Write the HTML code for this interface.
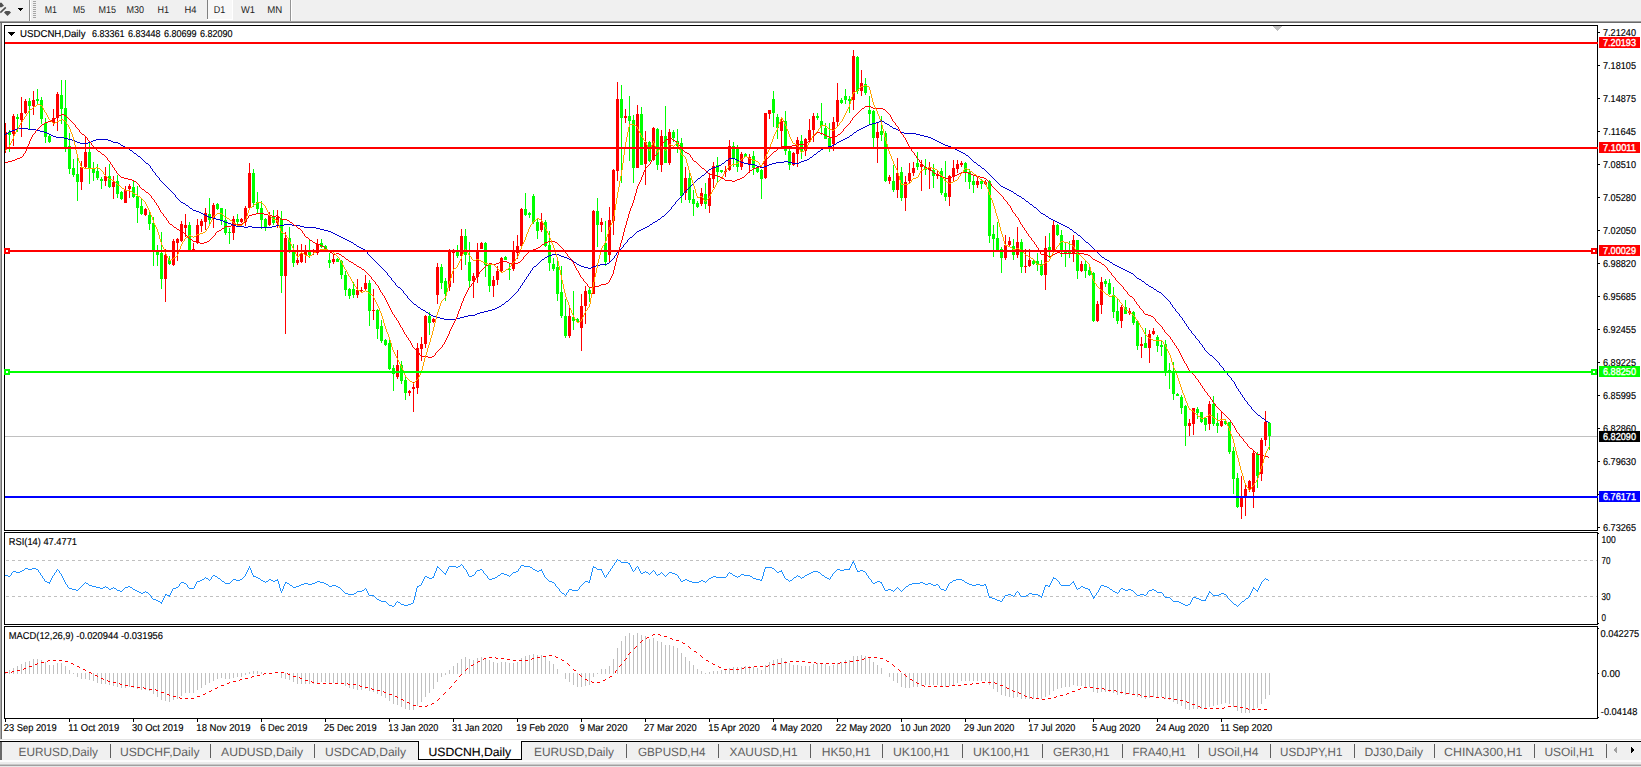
<!DOCTYPE html>
<html><head><meta charset="utf-8"><title>USDCNH,Daily</title>
<style>
html,body{margin:0;padding:0;background:#fff;}
body{width:1641px;height:767px;overflow:hidden;}
svg{display:block;font-family:"Liberation Sans",sans-serif;text-rendering:geometricPrecision;}
.c{shape-rendering:crispEdges;}
text{stroke-width:0.15px;}
text[fill="#000"]{stroke:#000;}
text[fill="#fff"]{stroke:#fff;stroke-width:0.35px;}
</style></head><body>
<svg width="1641" height="767" viewBox="0 0 1641 767">
<g class="c">
<rect x="0" y="0" width="1641" height="767" fill="#fff" />
<rect x="0" y="0" width="1641" height="21" fill="#f0f0f0" />
<rect x="0" y="21" width="1641" height="1" fill="#a0a0a0" />
<rect x="0" y="22" width="1641" height="1" fill="#696969" />
<rect x="0" y="23" width="1641" height="2" fill="#fff" />
<g shape-rendering="auto"><path d="M0 2.8h1.6l2.4 3-2.4 1.5H0z" fill="#505050"/><path d="M0.3 12.6L5.8 7.4" stroke="#505050" stroke-width="1.6" fill="none"/><path d="M5.6 11h3.8l1.6 1.5L7.5 16 4 12.5z" fill="#505050"/></g>
<rect x="18" y="8" width="5" height="1" fill="#000" />
<rect x="19" y="9" width="3" height="1" fill="#000" />
<rect x="20" y="10" width="1" height="1" fill="#000" />
<rect x="29" y="0" width="1" height="21" fill="#8c8c8c" />
<rect x="30" y="0" width="1" height="21" fill="#fff" />
<rect x="33" y="1" width="3" height="1" fill="#a6a6a6" />
<rect x="33" y="3" width="3" height="1" fill="#a6a6a6" />
<rect x="33" y="5" width="3" height="1" fill="#a6a6a6" />
<rect x="33" y="7" width="3" height="1" fill="#a6a6a6" />
<rect x="33" y="9" width="3" height="1" fill="#a6a6a6" />
<rect x="33" y="11" width="3" height="1" fill="#a6a6a6" />
<rect x="33" y="13" width="3" height="1" fill="#a6a6a6" />
<rect x="33" y="15" width="3" height="1" fill="#a6a6a6" />
<rect x="33" y="17" width="3" height="1" fill="#a6a6a6" />
<rect x="208" y="0" width="24" height="19" fill="#f8f8f8" />
<rect x="207" y="0" width="1" height="19" fill="#808080" />
<rect x="232" y="0" width="1" height="20" fill="#fff" />
<rect x="207" y="19" width="26" height="1" fill="#fff" />
<rect x="290" y="0" width="1" height="21" fill="#949494" />
<rect x="291" y="0" width="1" height="21" fill="#fff" />
<text x="44.8" y="13" font-size="10" fill="#222" textLength="12.20" lengthAdjust="spacingAndGlyphs" >M1</text>
<text x="73" y="13" font-size="10" fill="#222" textLength="12.00" lengthAdjust="spacingAndGlyphs" >M5</text>
<text x="98.5" y="13" font-size="10" fill="#222" textLength="17.50" lengthAdjust="spacingAndGlyphs" >M15</text>
<text x="126.5" y="13" font-size="10" fill="#222" textLength="17.50" lengthAdjust="spacingAndGlyphs" >M30</text>
<text x="157.5" y="13" font-size="10" fill="#222" textLength="11.50" lengthAdjust="spacingAndGlyphs" >H1</text>
<text x="184.5" y="13" font-size="10" fill="#222" textLength="12.00" lengthAdjust="spacingAndGlyphs" >H4</text>
<text x="213.7" y="13" font-size="10" fill="#222" textLength="11.50" lengthAdjust="spacingAndGlyphs" >D1</text>
<text x="241" y="13" font-size="10" fill="#222" textLength="14.00" lengthAdjust="spacingAndGlyphs" >W1</text>
<text x="267.3" y="13" font-size="10" fill="#222" textLength="15.00" lengthAdjust="spacingAndGlyphs" >MN</text>
<rect x="0" y="23" width="1" height="719" fill="#a9a9a9" />
<rect x="1" y="23" width="1" height="719" fill="#6e6e6e" />
<rect x="5" y="436" width="1592" height="1" fill="#c0c0c0" />
<rect x="5" y="123" width="1" height="30" fill="#ff0000" />
<rect x="5" y="132" width="2" height="17" fill="#ff0000" />
<path d="M9 130h1v2h1v3h-1v17h-1v-17h-1v-3h1z" fill="#00ff00"/>
<path d="M13 114h1v2h1v18h-1v12h-1v-12h-1v-18h1z" fill="#ff0000"/>
<path d="M17 114h1v3h1v2h-1v13h-1v-13h-1v-2h1z" fill="#00ff00"/>
<path d="M21 97h1v16h1v7h-1v17h-1v-17h-1v-7h1z" fill="#ff0000"/>
<path d="M25 99h1v2h1v12h-1v1h-1v-1h-1v-12h1z" fill="#ff0000"/>
<path d="M29 98h1v3h1v5h-1v24h-1v-24h-1v-5h1z" fill="#00ff00"/>
<path d="M33 91h1v9h1v6h-1v9h-1v-9h-1v-6h1z" fill="#ff0000"/>
<path d="M37 89h1v10h1v2h-1v3h-1v-3h-1v-2h1z" fill="#00ff00"/>
<path d="M41 97h1v3h1v19h-1v5h-1v-5h-1v-19h1z" fill="#00ff00"/>
<path d="M45 118h1v5h1v14h-1v6h-1v-6h-1v-14h1z" fill="#00ff00"/>
<path d="M49 135h1v1h1v6h-1v1h-1v-1h-1v-6h1z" fill="#00ff00"/>
<path d="M53 109h1v9h1v5h-1v3h-1v-3h-1v-5h1z" fill="#ff0000"/>
<path d="M57 92h1v2h1v24h-1v13h-1v-13h-1v-24h1z" fill="#ff0000"/>
<path d="M61 80h1v15h1v14h-1v15h-1v-15h-1v-14h1z" fill="#00ff00"/>
<path d="M65 80h1v28h1v39h-1v5h-1v-5h-1v-39h1z" fill="#00ff00"/>
<path d="M69 133h1v13h1v23h-1v5h-1v-5h-1v-23h1z" fill="#00ff00"/>
<path d="M73 159h1v9h1v7h-1v2h-1v-2h-1v-7h1z" fill="#00ff00"/>
<path d="M77 157h1v17h1v8h-1v19h-1v-19h-1v-8h1z" fill="#00ff00"/>
<path d="M81 161h1v6h1v15h-1v8h-1v-8h-1v-15h1z" fill="#ff0000"/>
<path d="M85 137h1v15h1v15h-1v1h-1v-1h-1v-15h1z" fill="#ff0000"/>
<path d="M89 143h1v9h1v17h-1v15h-1v-15h-1v-17h1z" fill="#00ff00"/>
<path d="M93 162h1v7h1v4h-1v8h-1v-8h-1v-4h1z" fill="#00ff00"/>
<path d="M97 164h1v7h1v7h-1v2h-1v-2h-1v-7h1z" fill="#00ff00"/>
<path d="M101 177h1v2h1v2h-1v8h-1v-8h-1v-2h1z" fill="#00ff00"/>
<path d="M105 167h1v9h1v5h-1v5h-1v-5h-1v-5h1z" fill="#ff0000"/>
<path d="M109 164h1v12h1v11h-1v1h-1v-1h-1v-11h1z" fill="#00ff00"/>
<path d="M113 176h1v6h1v5h-1v12h-1v-12h-1v-5h1z" fill="#ff0000"/>
<path d="M117 175h1v6h1v13h-1v4h-1v-4h-1v-13h1z" fill="#00ff00"/>
<path d="M121 191h1v1h1v7h-1v1h-1v-1h-1v-7h1z" fill="#00ff00"/>
<path d="M125 186h1v4h1v13h-1v0h-1v0h-1v-13h1z" fill="#ff0000"/>
<path d="M129 184h1v2h1v3h-1v9h-1v-9h-1v-3h1z" fill="#ff0000"/>
<path d="M133 181h1v6h1v10h-1v1h-1v-1h-1v-10h1z" fill="#00ff00"/>
<path d="M137 186h1v10h1v12h-1v15h-1v-15h-1v-12h1z" fill="#00ff00"/>
<path d="M141 199h1v7h1v8h-1v1h-1v-1h-1v-8h1z" fill="#00ff00"/>
<path d="M145 208h1v1h1v6h-1v1h-1v-1h-1v-6h1z" fill="#ff0000"/>
<path d="M149 212h1v3h1v9h-1v6h-1v-6h-1v-9h1z" fill="#00ff00"/>
<path d="M153 217h1v6h1v28h-1v15h-1v-15h-1v-28h1z" fill="#00ff00"/>
<path d="M157 245h1v6h1v4h-1v11h-1v-11h-1v-4h1z" fill="#00ff00"/>
<path d="M161 232h1v21h1v26h-1v10h-1v-10h-1v-26h1z" fill="#00ff00"/>
<path d="M165 249h1v6h1v24h-1v23h-1v-23h-1v-24h1z" fill="#ff0000"/>
<path d="M169 256h1v4h1v4h-1v1h-1v-1h-1v-4h1z" fill="#00ff00"/>
<path d="M173 239h1v2h1v24h-1v1h-1v-1h-1v-24h1z" fill="#ff0000"/>
<path d="M177 238h1v1h1v4h-1v18h-1v-18h-1v-4h1z" fill="#ff0000"/>
<path d="M181 221h1v3h1v17h-1v1h-1v-1h-1v-17h1z" fill="#ff0000"/>
<path d="M185 214h1v11h1v3h-1v9h-1v-9h-1v-3h1z" fill="#ff0000"/>
<path d="M189 222h1v3h1v25h-1v0h-1v0h-1v-25h1z" fill="#00ff00"/>
<path d="M193 243h1v6h1v1h-1v0h-1v0h-1v-1h1z" fill="#ff0000"/>
<path d="M197 219h1v6h1v18h-1v1h-1v-1h-1v-18h1z" fill="#ff0000"/>
<path d="M201 219h1v2h1v5h-1v6h-1v-6h-1v-5h1z" fill="#ff0000"/>
<path d="M205 208h1v5h1v9h-1v8h-1v-8h-1v-9h1z" fill="#ff0000"/>
<path d="M209 198h1v16h1v6h-1v5h-1v-5h-1v-6h1z" fill="#00ff00"/>
<path d="M213 203h1v2h1v13h-1v10h-1v-10h-1v-13h1z" fill="#ff0000"/>
<path d="M217 203h1v1h1v5h-1v1h-1v-1h-1v-5h1z" fill="#00ff00"/>
<path d="M221 208h1v0h1v12h-1v5h-1v-5h-1v-12h1z" fill="#00ff00"/>
<path d="M225 209h1v11h1v13h-1v2h-1v-2h-1v-13h1z" fill="#00ff00"/>
<path d="M229 228h1v4h1v1h-1v11h-1v-11h-1v-1h1z" fill="#00ff00"/>
<path d="M233 216h1v3h1v14h-1v7h-1v-7h-1v-14h1z" fill="#ff0000"/>
<path d="M237 214h1v5h1v3h-1v5h-1v-5h-1v-3h1z" fill="#00ff00"/>
<path d="M241 218h1v1h1v3h-1v1h-1v-1h-1v-3h1z" fill="#ff0000"/>
<path d="M245 206h1v2h1v14h-1v4h-1v-4h-1v-14h1z" fill="#ff0000"/>
<path d="M249 163h1v10h1v35h-1v2h-1v-2h-1v-35h1z" fill="#ff0000"/>
<path d="M253 169h1v4h1v30h-1v4h-1v-4h-1v-30h1z" fill="#00ff00"/>
<path d="M257 192h1v10h1v7h-1v4h-1v-4h-1v-7h1z" fill="#00ff00"/>
<path d="M261 201h1v7h1v12h-1v9h-1v-9h-1v-12h1z" fill="#00ff00"/>
<path d="M265 218h1v1h1v9h-1v3h-1v-3h-1v-9h1z" fill="#00ff00"/>
<path d="M269 212h1v4h1v9h-1v1h-1v-1h-1v-9h1z" fill="#ff0000"/>
<path d="M273 210h1v6h1v7h-1v2h-1v-2h-1v-7h1z" fill="#00ff00"/>
<path d="M277 210h1v7h1v6h-1v5h-1v-5h-1v-6h1z" fill="#ff0000"/>
<path d="M281 211h1v8h1v57h-1v17h-1v-17h-1v-57h1z" fill="#00ff00"/>
<path d="M285 232h1v6h1v38h-1v58h-1v-58h-1v-38h1z" fill="#ff0000"/>
<path d="M289 227h1v11h1v12h-1v3h-1v-3h-1v-12h1z" fill="#00ff00"/>
<path d="M293 244h1v8h1v11h-1v4h-1v-4h-1v-11h1z" fill="#00ff00"/>
<path d="M297 245h1v15h1v3h-1v2h-1v-2h-1v-3h1z" fill="#ff0000"/>
<path d="M301 244h1v10h1v8h-1v1h-1v-1h-1v-8h1z" fill="#ff0000"/>
<path d="M305 245h1v5h1v5h-1v8h-1v-8h-1v-5h1z" fill="#ff0000"/>
<path d="M309 240h1v11h1v4h-1v3h-1v-3h-1v-4h1z" fill="#00ff00"/>
<path d="M313 249h1v1h1v1h-1v4h-1v-4h-1v-1h1z" fill="#ff0000"/>
<path d="M317 239h1v5h1v9h-1v2h-1v-2h-1v-9h1z" fill="#ff0000"/>
<path d="M321 239h1v4h1v4h-1v1h-1v-1h-1v-4h1z" fill="#00ff00"/>
<path d="M325 245h1v1h1v4h-1v1h-1v-1h-1v-4h1z" fill="#00ff00"/>
<path d="M329 253h1v7h1v3h-1v5h-1v-5h-1v-3h1z" fill="#00ff00"/>
<path d="M333 255h1v4h1v3h-1v2h-1v-2h-1v-3h1z" fill="#ff0000"/>
<path d="M337 258h1v1h1v3h-1v0h-1v0h-1v-3h1z" fill="#00ff00"/>
<path d="M341 260h1v1h1v14h-1v4h-1v-4h-1v-14h1z" fill="#00ff00"/>
<path d="M345 271h1v4h1v15h-1v6h-1v-6h-1v-15h1z" fill="#00ff00"/>
<path d="M349 288h1v1h1v7h-1v3h-1v-3h-1v-7h1z" fill="#00ff00"/>
<path d="M353 282h1v7h1v6h-1v3h-1v-3h-1v-6h1z" fill="#00ff00"/>
<path d="M357 279h1v11h1v5h-1v3h-1v-3h-1v-5h1z" fill="#ff0000"/>
<path d="M361 287h1v3h1v1h-1v2h-1v-2h-1v-1h1z" fill="#ff0000"/>
<path d="M365 275h1v8h1v6h-1v2h-1v-2h-1v-6h1z" fill="#ff0000"/>
<path d="M369 280h1v3h1v28h-1v15h-1v-15h-1v-28h1z" fill="#00ff00"/>
<path d="M373 289h1v21h1v1h-1v9h-1v-9h-1v-1h1z" fill="#ff0000"/>
<path d="M377 309h1v1h1v19h-1v10h-1v-10h-1v-19h1z" fill="#00ff00"/>
<path d="M381 320h1v6h1v15h-1v2h-1v-2h-1v-15h1z" fill="#00ff00"/>
<path d="M385 339h1v1h1v5h-1v1h-1v-1h-1v-5h1z" fill="#00ff00"/>
<path d="M389 340h1v3h1v26h-1v1h-1v-1h-1v-26h1z" fill="#00ff00"/>
<path d="M393 365h1v3h1v6h-1v17h-1v-17h-1v-6h1z" fill="#00ff00"/>
<path d="M397 350h1v15h1v12h-1v2h-1v-2h-1v-12h1z" fill="#ff0000"/>
<path d="M401 361h1v4h1v16h-1v3h-1v-3h-1v-16h1z" fill="#00ff00"/>
<path d="M405 377h1v3h1v13h-1v7h-1v-7h-1v-13h1z" fill="#00ff00"/>
<path d="M409 390h1v1h1v2h-1v3h-1v-3h-1v-2h1z" fill="#ff0000"/>
<path d="M413 382h1v5h1v2h-1v23h-1v-23h-1v-2h1z" fill="#ff0000"/>
<path d="M417 343h1v5h1v40h-1v6h-1v-6h-1v-40h1z" fill="#ff0000"/>
<path d="M421 337h1v7h1v5h-1v12h-1v-12h-1v-5h1z" fill="#ff0000"/>
<path d="M425 315h1v1h1v28h-1v4h-1v-4h-1v-28h1z" fill="#ff0000"/>
<path d="M429 312h1v4h1v7h-1v12h-1v-12h-1v-7h1z" fill="#00ff00"/>
<path d="M433 318h1v1h1v3h-1v1h-1v-1h-1v-3h1z" fill="#ff0000"/>
<path d="M437 263h1v4h1v28h-1v9h-1v-9h-1v-28h1z" fill="#ff0000"/>
<path d="M441 264h1v3h1v16h-1v6h-1v-6h-1v-16h1z" fill="#00ff00"/>
<path d="M445 278h1v3h1v13h-1v7h-1v-7h-1v-13h1z" fill="#00ff00"/>
<path d="M449 249h1v1h1v37h-1v4h-1v-4h-1v-37h1z" fill="#ff0000"/>
<path d="M453 249h1v2h1v2h-1v30h-1v-30h-1v-2h1z" fill="#ff0000"/>
<path d="M457 245h1v6h1v5h-1v2h-1v-2h-1v-5h1z" fill="#00ff00"/>
<path d="M461 229h1v7h1v20h-1v14h-1v-14h-1v-20h1z" fill="#ff0000"/>
<path d="M465 229h1v7h1v19h-1v10h-1v-10h-1v-19h1z" fill="#00ff00"/>
<path d="M469 242h1v20h1v19h-1v7h-1v-7h-1v-19h1z" fill="#00ff00"/>
<path d="M473 273h1v3h1v5h-1v17h-1v-17h-1v-5h1z" fill="#ff0000"/>
<path d="M477 243h1v7h1v27h-1v6h-1v-6h-1v-27h1z" fill="#ff0000"/>
<path d="M481 242h1v1h1v6h-1v0h-1v0h-1v-6h1z" fill="#ff0000"/>
<path d="M485 242h1v1h1v22h-1v12h-1v-12h-1v-22h1z" fill="#00ff00"/>
<path d="M489 263h1v1h1v22h-1v6h-1v-6h-1v-22h1z" fill="#00ff00"/>
<path d="M493 276h1v4h1v6h-1v11h-1v-11h-1v-6h1z" fill="#ff0000"/>
<path d="M497 266h1v5h1v9h-1v5h-1v-5h-1v-9h1z" fill="#ff0000"/>
<path d="M501 257h1v1h1v13h-1v2h-1v-2h-1v-13h1z" fill="#ff0000"/>
<path d="M505 256h1v1h1v3h-1v0h-1v0h-1v-3h1z" fill="#00ff00"/>
<path d="M509 264h1v5h1v1h-1v10h-1v-10h-1v-1h1z" fill="#00ff00"/>
<path d="M513 241h1v11h1v17h-1v2h-1v-2h-1v-17h1z" fill="#ff0000"/>
<path d="M517 235h1v11h1v7h-1v6h-1v-6h-1v-7h1z" fill="#ff0000"/>
<path d="M521 208h1v1h1v37h-1v0h-1v0h-1v-37h1z" fill="#ff0000"/>
<path d="M525 193h1v16h1v6h-1v1h-1v-1h-1v-6h1z" fill="#00ff00"/>
<path d="M529 212h1v1h1v2h-1v3h-1v-3h-1v-2h1z" fill="#00ff00"/>
<path d="M533 194h1v2h1v26h-1v2h-1v-2h-1v-26h1z" fill="#00ff00"/>
<path d="M537 218h1v4h1v9h-1v8h-1v-8h-1v-9h1z" fill="#00ff00"/>
<path d="M541 213h1v9h1v8h-1v2h-1v-2h-1v-8h1z" fill="#ff0000"/>
<path d="M545 220h1v2h1v24h-1v1h-1v-1h-1v-24h1z" fill="#00ff00"/>
<path d="M549 231h1v14h1v18h-1v8h-1v-8h-1v-18h1z" fill="#00ff00"/>
<path d="M553 258h1v6h1v5h-1v2h-1v-2h-1v-5h1z" fill="#00ff00"/>
<path d="M557 259h1v8h1v27h-1v7h-1v-7h-1v-27h1z" fill="#00ff00"/>
<path d="M561 266h1v26h1v24h-1v2h-1v-2h-1v-24h1z" fill="#00ff00"/>
<path d="M565 299h1v17h1v20h-1v2h-1v-2h-1v-20h1z" fill="#00ff00"/>
<path d="M569 308h1v8h1v20h-1v2h-1v-2h-1v-20h1z" fill="#ff0000"/>
<path d="M573 291h1v26h1v4h-1v9h-1v-9h-1v-4h1z" fill="#00ff00"/>
<path d="M577 318h1v1h1v3h-1v1h-1v-1h-1v-3h1z" fill="#00ff00"/>
<path d="M581 294h1v12h1v22h-1v23h-1v-23h-1v-22h1z" fill="#ff0000"/>
<path d="M585 286h1v5h1v15h-1v18h-1v-18h-1v-15h1z" fill="#ff0000"/>
<path d="M589 287h1v3h1v4h-1v8h-1v-8h-1v-4h1z" fill="#00ff00"/>
<path d="M593 210h1v1h1v83h-1v0h-1v0h-1v-83h1z" fill="#ff0000"/>
<path d="M597 198h1v13h1v14h-1v22h-1v-22h-1v-14h1z" fill="#00ff00"/>
<path d="M601 218h1v4h1v3h-1v7h-1v-7h-1v-3h1z" fill="#ff0000"/>
<path d="M605 221h1v22h1v19h-1v4h-1v-4h-1v-19h1z" fill="#00ff00"/>
<path d="M609 207h1v13h1v35h-1v7h-1v-7h-1v-35h1z" fill="#ff0000"/>
<path d="M613 169h1v1h1v51h-1v14h-1v-14h-1v-51h1z" fill="#ff0000"/>
<path d="M617 82h1v17h1v72h-1v10h-1v-10h-1v-72h1z" fill="#ff0000"/>
<path d="M621 85h1v14h1v19h-1v65h-1v-65h-1v-19h1z" fill="#00ff00"/>
<path d="M625 109h1v7h1v2h-1v5h-1v-5h-1v-2h1z" fill="#ff0000"/>
<path d="M629 96h1v20h1v5h-1v40h-1v-40h-1v-5h1z" fill="#00ff00"/>
<path d="M633 115h1v5h1v48h-1v15h-1v-15h-1v-48h1z" fill="#00ff00"/>
<path d="M637 105h1v9h1v54h-1v0h-1v0h-1v-54h1z" fill="#ff0000"/>
<path d="M641 107h1v7h1v51h-1v0h-1v0h-1v-51h1z" fill="#00ff00"/>
<path d="M645 131h1v11h1v22h-1v21h-1v-21h-1v-22h1z" fill="#ff0000"/>
<path d="M649 141h1v1h1v19h-1v1h-1v-1h-1v-19h1z" fill="#00ff00"/>
<path d="M653 127h1v1h1v32h-1v1h-1v-1h-1v-32h1z" fill="#ff0000"/>
<path d="M657 128h1v1h1v36h-1v5h-1v-5h-1v-36h1z" fill="#00ff00"/>
<path d="M661 130h1v6h1v29h-1v7h-1v-7h-1v-29h1z" fill="#ff0000"/>
<path d="M665 106h1v30h1v27h-1v0h-1v0h-1v-27h1z" fill="#00ff00"/>
<path d="M669 129h1v3h1v31h-1v2h-1v-2h-1v-31h1z" fill="#ff0000"/>
<path d="M673 130h1v2h1v6h-1v4h-1v-4h-1v-6h1z" fill="#00ff00"/>
<path d="M677 129h1v12h1v5h-1v7h-1v-7h-1v-5h1z" fill="#00ff00"/>
<path d="M681 138h1v5h1v53h-1v7h-1v-7h-1v-53h1z" fill="#00ff00"/>
<path d="M685 167h1v11h1v15h-1v7h-1v-7h-1v-15h1z" fill="#ff0000"/>
<path d="M689 172h1v6h1v22h-1v3h-1v-3h-1v-22h1z" fill="#00ff00"/>
<path d="M693 190h1v9h1v5h-1v12h-1v-12h-1v-5h1z" fill="#00ff00"/>
<path d="M697 201h1v2h1v4h-1v1h-1v-1h-1v-4h1z" fill="#00ff00"/>
<path d="M701 188h1v5h1v11h-1v2h-1v-2h-1v-11h1z" fill="#ff0000"/>
<path d="M705 183h1v11h1v10h-1v5h-1v-5h-1v-10h1z" fill="#00ff00"/>
<path d="M709 173h1v5h1v28h-1v7h-1v-7h-1v-28h1z" fill="#ff0000"/>
<path d="M713 162h1v4h1v13h-1v9h-1v-9h-1v-13h1z" fill="#ff0000"/>
<path d="M717 157h1v8h1v7h-1v11h-1v-11h-1v-7h1z" fill="#00ff00"/>
<path d="M721 170h1v0h1v2h-1v1h-1v-1h-1v-2h1z" fill="#00ff00"/>
<path d="M725 166h1v5h1v1h-1v5h-1v-5h-1v-1h1z" fill="#ff0000"/>
<path d="M729 140h1v6h1v24h-1v1h-1v-1h-1v-24h1z" fill="#ff0000"/>
<path d="M733 142h1v4h1v13h-1v8h-1v-8h-1v-13h1z" fill="#00ff00"/>
<path d="M737 145h1v4h1v18h-1v5h-1v-5h-1v-18h1z" fill="#00ff00"/>
<path d="M741 152h1v2h1v13h-1v3h-1v-3h-1v-13h1z" fill="#ff0000"/>
<path d="M745 153h1v1h1v3h-1v0h-1v0h-1v-3h1z" fill="#00ff00"/>
<path d="M749 154h1v3h1v8h-1v8h-1v-8h-1v-8h1z" fill="#ff0000"/>
<path d="M753 151h1v5h1v12h-1v7h-1v-7h-1v-12h1z" fill="#00ff00"/>
<path d="M757 166h1v1h1v5h-1v1h-1v-1h-1v-5h1z" fill="#00ff00"/>
<path d="M761 169h1v1h1v9h-1v20h-1v-20h-1v-9h1z" fill="#00ff00"/>
<path d="M765 113h1v0h1v65h-1v1h-1v-1h-1v-65h1z" fill="#ff0000"/>
<path d="M769 110h1v0h1v4h-1v5h-1v-5h-1v-4h1z" fill="#ff0000"/>
<path d="M773 91h1v8h1v14h-1v14h-1v-14h-1v-14h1z" fill="#00ff00"/>
<path d="M777 114h1v3h1v11h-1v11h-1v-11h-1v-11h1z" fill="#00ff00"/>
<path d="M781 118h1v3h1v10h-1v18h-1v-18h-1v-10h1z" fill="#ff0000"/>
<path d="M785 111h1v10h1v30h-1v4h-1v-4h-1v-30h1z" fill="#00ff00"/>
<path d="M789 149h1v2h1v14h-1v5h-1v-5h-1v-14h1z" fill="#00ff00"/>
<path d="M793 152h1v1h1v12h-1v1h-1v-1h-1v-12h1z" fill="#ff0000"/>
<path d="M797 137h1v3h1v14h-1v13h-1v-13h-1v-14h1z" fill="#ff0000"/>
<path d="M801 135h1v6h1v11h-1v7h-1v-7h-1v-11h1z" fill="#00ff00"/>
<path d="M805 138h1v1h1v12h-1v5h-1v-5h-1v-12h1z" fill="#ff0000"/>
<path d="M809 119h1v11h1v10h-1v2h-1v-2h-1v-10h1z" fill="#ff0000"/>
<path d="M813 113h1v3h1v14h-1v12h-1v-12h-1v-14h1z" fill="#ff0000"/>
<path d="M817 113h1v3h1v2h-1v2h-1v-2h-1v-2h1z" fill="#00ff00"/>
<path d="M821 103h1v18h1v5h-1v9h-1v-9h-1v-5h1z" fill="#00ff00"/>
<path d="M825 123h1v5h1v11h-1v0h-1v0h-1v-11h1z" fill="#00ff00"/>
<path d="M829 123h1v15h1v8h-1v6h-1v-6h-1v-8h1z" fill="#00ff00"/>
<path d="M833 117h1v5h1v22h-1v7h-1v-7h-1v-22h1z" fill="#ff0000"/>
<path d="M837 83h1v17h1v22h-1v4h-1v-4h-1v-22h1z" fill="#ff0000"/>
<path d="M841 98h1v2h1v3h-1v1h-1v-1h-1v-3h1z" fill="#00ff00"/>
<path d="M845 89h1v7h1v4h-1v4h-1v-4h-1v-4h1z" fill="#00ff00"/>
<path d="M849 96h1v3h1v2h-1v12h-1v-12h-1v-2h1z" fill="#00ff00"/>
<path d="M853 50h1v6h1v44h-1v10h-1v-10h-1v-44h1z" fill="#ff0000"/>
<path d="M857 56h1v1h1v34h-1v3h-1v-3h-1v-34h1z" fill="#00ff00"/>
<path d="M861 70h1v13h1v8h-1v5h-1v-5h-1v-8h1z" fill="#ff0000"/>
<path d="M865 78h1v6h1v9h-1v2h-1v-2h-1v-9h1z" fill="#00ff00"/>
<path d="M869 96h1v14h1v4h-1v11h-1v-11h-1v-4h1z" fill="#00ff00"/>
<path d="M873 110h1v1h1v27h-1v9h-1v-9h-1v-27h1z" fill="#00ff00"/>
<path d="M877 122h1v10h1v6h-1v25h-1v-25h-1v-6h1z" fill="#ff0000"/>
<path d="M881 116h1v15h1v4h-1v6h-1v-6h-1v-4h1z" fill="#00ff00"/>
<path d="M885 131h1v2h1v48h-1v1h-1v-1h-1v-48h1z" fill="#00ff00"/>
<path d="M889 175h1v2h1v4h-1v3h-1v-3h-1v-4h1z" fill="#ff0000"/>
<path d="M893 165h1v16h1v9h-1v2h-1v-2h-1v-9h1z" fill="#00ff00"/>
<path d="M897 158h1v15h1v17h-1v8h-1v-8h-1v-17h1z" fill="#ff0000"/>
<path d="M901 167h1v5h1v26h-1v3h-1v-3h-1v-26h1z" fill="#00ff00"/>
<path d="M905 176h1v6h1v16h-1v13h-1v-13h-1v-16h1z" fill="#ff0000"/>
<path d="M909 163h1v10h1v8h-1v3h-1v-3h-1v-8h1z" fill="#ff0000"/>
<path d="M913 162h1v6h1v5h-1v3h-1v-3h-1v-5h1z" fill="#ff0000"/>
<path d="M917 152h1v11h1v4h-1v3h-1v-3h-1v-4h1z" fill="#00ff00"/>
<path d="M921 160h1v4h1v3h-1v24h-1v-24h-1v-3h1z" fill="#ff0000"/>
<path d="M925 159h1v8h1v3h-1v5h-1v-5h-1v-3h1z" fill="#00ff00"/>
<path d="M929 162h1v5h1v3h-1v19h-1v-19h-1v-3h1z" fill="#ff0000"/>
<path d="M933 164h1v6h1v6h-1v12h-1v-12h-1v-6h1z" fill="#00ff00"/>
<path d="M937 170h1v4h1v2h-1v3h-1v-3h-1v-2h1z" fill="#ff0000"/>
<path d="M941 168h1v3h1v22h-1v2h-1v-2h-1v-22h1z" fill="#00ff00"/>
<path d="M945 161h1v32h1v4h-1v4h-1v-4h-1v-4h1z" fill="#00ff00"/>
<path d="M949 175h1v1h1v21h-1v9h-1v-9h-1v-21h1z" fill="#ff0000"/>
<path d="M953 160h1v8h1v9h-1v5h-1v-5h-1v-9h1z" fill="#ff0000"/>
<path d="M957 160h1v4h1v5h-1v4h-1v-4h-1v-5h1z" fill="#ff0000"/>
<path d="M961 161h1v2h1v2h-1v2h-1v-2h-1v-2h1z" fill="#ff0000"/>
<path d="M965 162h1v1h1v10h-1v9h-1v-9h-1v-10h1z" fill="#00ff00"/>
<path d="M969 169h1v3h1v10h-1v7h-1v-7h-1v-10h1z" fill="#00ff00"/>
<path d="M973 175h1v6h1v4h-1v8h-1v-8h-1v-4h1z" fill="#00ff00"/>
<path d="M977 176h1v5h1v4h-1v3h-1v-3h-1v-4h1z" fill="#ff0000"/>
<path d="M981 179h1v2h1v3h-1v5h-1v-5h-1v-3h1z" fill="#00ff00"/>
<path d="M985 180h1v2h1v2h-1v1h-1v-1h-1v-2h1z" fill="#ff0000"/>
<path d="M989 180h1v1h1v55h-1v7h-1v-7h-1v-55h1z" fill="#00ff00"/>
<path d="M993 225h1v9h1v5h-1v18h-1v-18h-1v-5h1z" fill="#00ff00"/>
<path d="M997 222h1v16h1v12h-1v0h-1v0h-1v-12h1z" fill="#00ff00"/>
<path d="M1001 247h1v2h1v9h-1v15h-1v-15h-1v-9h1z" fill="#00ff00"/>
<path d="M1005 235h1v10h1v13h-1v2h-1v-2h-1v-13h1z" fill="#ff0000"/>
<path d="M1009 237h1v4h1v4h-1v2h-1v-2h-1v-4h1z" fill="#ff0000"/>
<path d="M1013 239h1v7h1v9h-1v5h-1v-5h-1v-9h1z" fill="#00ff00"/>
<path d="M1017 227h1v15h1v13h-1v3h-1v-3h-1v-13h1z" fill="#ff0000"/>
<path d="M1021 239h1v3h1v25h-1v6h-1v-6h-1v-25h1z" fill="#00ff00"/>
<path d="M1025 249h1v17h1v1h-1v6h-1v-6h-1v-1h1z" fill="#ff0000"/>
<path d="M1029 249h1v11h1v6h-1v1h-1v-1h-1v-6h1z" fill="#ff0000"/>
<path d="M1033 260h1v1h1v3h-1v1h-1v-1h-1v-3h1z" fill="#00ff00"/>
<path d="M1037 253h1v8h1v4h-1v6h-1v-6h-1v-4h1z" fill="#00ff00"/>
<path d="M1041 260h1v4h1v11h-1v1h-1v-1h-1v-11h1z" fill="#00ff00"/>
<path d="M1045 236h1v12h1v27h-1v15h-1v-15h-1v-27h1z" fill="#ff0000"/>
<path d="M1049 233h1v14h1v3h-1v8h-1v-8h-1v-3h1z" fill="#00ff00"/>
<path d="M1053 220h1v5h1v26h-1v1h-1v-1h-1v-26h1z" fill="#ff0000"/>
<path d="M1057 224h1v1h1v10h-1v1h-1v-1h-1v-10h1z" fill="#00ff00"/>
<path d="M1061 230h1v5h1v15h-1v7h-1v-7h-1v-15h1z" fill="#00ff00"/>
<path d="M1065 242h1v8h1v3h-1v14h-1v-14h-1v-3h1z" fill="#00ff00"/>
<path d="M1069 241h1v9h1v4h-1v4h-1v-4h-1v-4h1z" fill="#00ff00"/>
<path d="M1073 235h1v5h1v13h-1v9h-1v-9h-1v-13h1z" fill="#ff0000"/>
<path d="M1077 240h1v0h1v31h-1v8h-1v-8h-1v-31h1z" fill="#00ff00"/>
<path d="M1081 261h1v3h1v7h-1v1h-1v-1h-1v-7h1z" fill="#ff0000"/>
<path d="M1085 260h1v4h1v7h-1v7h-1v-7h-1v-7h1z" fill="#00ff00"/>
<path d="M1089 264h1v6h1v5h-1v1h-1v-1h-1v-5h1z" fill="#00ff00"/>
<path d="M1093 272h1v1h1v48h-1v1h-1v-1h-1v-48h1z" fill="#00ff00"/>
<path d="M1097 301h1v3h1v17h-1v1h-1v-1h-1v-17h1z" fill="#ff0000"/>
<path d="M1101 277h1v5h1v23h-1v9h-1v-9h-1v-23h1z" fill="#ff0000"/>
<path d="M1105 279h1v2h1v3h-1v3h-1v-3h-1v-3h1z" fill="#00ff00"/>
<path d="M1109 279h1v4h1v11h-1v1h-1v-1h-1v-11h1z" fill="#00ff00"/>
<path d="M1113 287h1v8h1v17h-1v6h-1v-6h-1v-17h1z" fill="#00ff00"/>
<path d="M1117 299h1v12h1v10h-1v3h-1v-3h-1v-10h1z" fill="#00ff00"/>
<path d="M1121 305h1v2h1v14h-1v7h-1v-7h-1v-14h1z" fill="#ff0000"/>
<path d="M1125 300h1v7h1v7h-1v0h-1v0h-1v-7h1z" fill="#00ff00"/>
<path d="M1129 308h1v3h1v2h-1v2h-1v-2h-1v-2h1z" fill="#ff0000"/>
<path d="M1133 311h1v1h1v11h-1v2h-1v-2h-1v-11h1z" fill="#00ff00"/>
<path d="M1137 321h1v0h1v25h-1v4h-1v-4h-1v-25h1z" fill="#00ff00"/>
<path d="M1141 337h1v7h1v2h-1v12h-1v-12h-1v-2h1z" fill="#ff0000"/>
<path d="M1145 328h1v15h1v5h-1v0h-1v0h-1v-5h1z" fill="#00ff00"/>
<path d="M1149 330h1v4h1v14h-1v15h-1v-15h-1v-14h1z" fill="#ff0000"/>
<path d="M1153 328h1v3h1v3h-1v1h-1v-1h-1v-3h1z" fill="#ff0000"/>
<path d="M1157 335h1v2h1v9h-1v6h-1v-6h-1v-9h1z" fill="#00ff00"/>
<path d="M1161 340h1v5h1v2h-1v9h-1v-9h-1v-2h1z" fill="#00ff00"/>
<path d="M1165 340h1v4h1v28h-1v4h-1v-4h-1v-28h1z" fill="#00ff00"/>
<path d="M1169 363h1v7h1v3h-1v16h-1v-16h-1v-3h1z" fill="#00ff00"/>
<path d="M1173 362h1v10h1v22h-1v6h-1v-6h-1v-22h1z" fill="#00ff00"/>
<path d="M1177 393h1v1h1v2h-1v0h-1v0h-1v-2h1z" fill="#00ff00"/>
<path d="M1181 395h1v2h1v11h-1v6h-1v-6h-1v-11h1z" fill="#00ff00"/>
<path d="M1185 405h1v1h1v20h-1v20h-1v-20h-1v-20h1z" fill="#00ff00"/>
<path d="M1189 419h1v4h1v3h-1v10h-1v-10h-1v-3h1z" fill="#ff0000"/>
<path d="M1193 408h1v0h1v16h-1v11h-1v-11h-1v-16h1z" fill="#ff0000"/>
<path d="M1197 407h1v2h1v4h-1v6h-1v-6h-1v-4h1z" fill="#00ff00"/>
<path d="M1201 412h1v0h1v10h-1v1h-1v-1h-1v-10h1z" fill="#00ff00"/>
<path d="M1205 417h1v1h1v7h-1v6h-1v-6h-1v-7h1z" fill="#00ff00"/>
<path d="M1209 401h1v3h1v20h-1v6h-1v-6h-1v-20h1z" fill="#ff0000"/>
<path d="M1213 396h1v8h1v20h-1v2h-1v-2h-1v-20h1z" fill="#00ff00"/>
<path d="M1217 413h1v10h1v3h-1v7h-1v-7h-1v-3h1z" fill="#00ff00"/>
<path d="M1221 412h1v9h1v5h-1v1h-1v-1h-1v-5h1z" fill="#ff0000"/>
<path d="M1225 421h1v0h1v3h-1v1h-1v-1h-1v-3h1z" fill="#00ff00"/>
<path d="M1229 422h1v0h1v30h-1v2h-1v-2h-1v-30h1z" fill="#00ff00"/>
<path d="M1233 447h1v4h1v28h-1v15h-1v-15h-1v-28h1z" fill="#00ff00"/>
<path d="M1237 473h1v5h1v29h-1v1h-1v-1h-1v-29h1z" fill="#00ff00"/>
<path d="M1241 476h1v21h1v10h-1v12h-1v-12h-1v-10h1z" fill="#ff0000"/>
<path d="M1245 485h1v4h1v9h-1v18h-1v-18h-1v-9h1z" fill="#ff0000"/>
<path d="M1249 480h1v1h1v9h-1v2h-1v-2h-1v-9h1z" fill="#ff0000"/>
<path d="M1253 451h1v2h1v39h-1v16h-1v-16h-1v-39h1z" fill="#ff0000"/>
<path d="M1257 452h1v2h1v22h-1v12h-1v-12h-1v-22h1z" fill="#00ff00"/>
<path d="M1261 438h1v2h1v34h-1v7h-1v-7h-1v-34h1z" fill="#ff0000"/>
<path d="M1265 411h1v11h1v18h-1v6h-1v-6h-1v-18h1z" fill="#ff0000"/>
<path d="M1269 422h1v1h1v13h-1v14h-1v-14h-1v-13h1z" fill="#00ff00"/>
<path d="M506 301h2v1h-2zM1026 201h2v1h-2zM1001 186h2v1h-2zM698 178h2v1h-2zM1157 291h2v1h-2zM748 164h7v1h-7zM769 164h3v1h-3zM68 139h4v1h-4zM96 139h12v1h-12zM843 139h2v1h-2zM933 139h2v1h-2zM577 264h2v1h-2zM600 264h7v1h-7zM1113 264h2v1h-2zM872 123h4v1h-4zM885 123h2v1h-2zM236 226h8v1h-8zM248 226h4v1h-4zM272 226h4v1h-4zM300 226h4v1h-4zM647 226h2v1h-2zM1065 226h2v1h-2zM1139 279h2v1h-2zM436 317h4v1h-4zM460 317h4v1h-4zM225 222h3v1h-3zM653 222h2v1h-2zM1057 222h2v1h-2zM233 225h3v1h-3zM276 225h8v1h-8zM292 225h8v1h-8zM1063 225h2v1h-2zM1017 195h2v1h-2zM12 130h3v1h-3zM36 130h4v1h-4zM857 130h2v1h-2zM898 130h2v1h-2zM231 224h2v1h-2zM284 224h8v1h-8zM650 224h2v1h-2zM1061 224h2v1h-2zM863 127h2v1h-2zM499 306h2v1h-2zM6 133h2v1h-2zM47 133h2v1h-2zM904 133h12v1h-12zM316 228h4v1h-4zM643 228h2v1h-2zM212 218h4v1h-4zM1049 218h2v1h-2zM75 141h2v1h-2zM91 141h2v1h-2zM111 141h2v1h-2zM839 141h2v1h-2zM937 141h2v1h-2zM542 259h2v1h-2zM569 259h2v1h-2zM1105 259h2v1h-2zM320 229h4v1h-4zM641 229h2v1h-2zM1070 229h2v1h-2zM1011 191h2v1h-2zM1003 187h2v1h-2zM547 256h2v1h-2zM561 256h3v1h-3zM1005 188h2v1h-2zM17 128h11v1h-11zM861 128h2v1h-2zM893 128h3v1h-3zM607 263h2v1h-2zM193 210h3v1h-3zM244 227h4v1h-4zM252 227h20v1h-20zM304 227h12v1h-12zM645 227h2v1h-2zM1067 227h2v1h-2zM1127 271h2v1h-2zM1146 284h2v1h-2zM534 266h2v1h-2zM581 266h3v1h-3zM593 266h3v1h-3zM1117 266h2v1h-2zM1129 272h2v1h-2zM584 267h4v1h-4zM591 267h2v1h-2zM1119 267h2v1h-2zM49 134h2v1h-2zM916 134h4v1h-4zM1131 273h2v1h-2zM414 304h2v1h-2zM502 304h2v1h-2zM72 140h3v1h-3zM93 140h3v1h-3zM108 140h3v1h-3zM841 140h2v1h-2zM935 140h2v1h-2zM77 142h3v1h-3zM88 142h3v1h-3zM113 142h5v1h-5zM837 142h2v1h-2zM939 142h2v1h-2zM341 237h2v1h-2zM630 237h2v1h-2zM719 165h2v1h-2zM755 165h2v1h-2zM767 165h2v1h-2zM978 165h2v1h-2zM134 153h2v1h-2zM963 153h2v1h-2zM713 167h3v1h-3zM760 167h4v1h-4zM53 136h3v1h-3zM924 136h4v1h-4zM440 318h4v1h-4zM456 318h4v1h-4zM64 138h4v1h-4zM845 138h2v1h-2zM931 138h2v1h-2zM1137 278h2v1h-2zM56 137h8v1h-8zM847 137h2v1h-2zM928 137h3v1h-3zM1142 281h2v1h-2zM349 241h2v1h-2zM702 175h2v1h-2zM351 242h2v1h-2zM1086 242h2v1h-2zM433 316h3v1h-3zM464 316h4v1h-4zM426 312h2v1h-2zM480 312h4v1h-4zM726 160h2v1h-2zM737 160h2v1h-2zM804 160h3v1h-3zM571 260h2v1h-2zM1107 260h2v1h-2zM328 231h3v1h-3zM637 231h2v1h-2zM223 221h2v1h-2zM655 221h2v1h-2zM1055 221h2v1h-2zM1022 198h2v1h-2zM220 220h3v1h-3zM1053 220h2v1h-2zM423 310h2v1h-2zM488 310h4v1h-4zM444 319h12v1h-12zM477 313h3v1h-3zM545 257h2v1h-2zM564 257h3v1h-3zM1102 257h2v1h-2zM814 154h2v1h-2zM324 230h4v1h-4zM639 230h2v1h-2zM205 215h2v1h-2zM359 247h2v1h-2zM421 309h2v1h-2zM492 309h3v1h-3zM361 248h2v1h-2zM1149 286h2v1h-2zM190 208h2v1h-2zM15 129h2v1h-2zM28 129h8v1h-8zM859 129h2v1h-2zM896 129h2v1h-2zM865 126h2v1h-2zM890 126h2v1h-2zM549 255h3v1h-3zM559 255h2v1h-2zM130 150h2v1h-2zM957 150h2v1h-2zM398 287h2v1h-2zM1151 287h2v1h-2zM1125 270h2v1h-2zM588 268h3v1h-3zM1121 268h2v1h-2zM201 213h2v1h-2zM1041 213h2v1h-2zM203 214h2v1h-2zM1043 214h2v1h-2zM138 156h2v1h-2zM810 157h2v1h-2zM484 311h4v1h-4zM1009 190h2v1h-2zM44 132h3v1h-3zM854 132h2v1h-2zM901 132h3v1h-3zM431 315h2v1h-2zM468 315h7v1h-7zM216 219h4v1h-4zM658 219h2v1h-2zM1051 219h2v1h-2zM821 149h2v1h-2zM955 149h2v1h-2zM741 162h3v1h-3zM776 162h8v1h-8zM788 162h4v1h-4zM799 162h2v1h-2zM974 162h2v1h-2zM1258 415h2v1h-2zM552 254h7v1h-7zM183 203h2v1h-2zM709 169h2v1h-2zM9 131h3v1h-3zM40 131h4v1h-4zM418 307h2v1h-2zM497 307h2v1h-2zM735 159h2v1h-2zM807 159h2v1h-2zM228 223h3v1h-3zM1059 223h2v1h-2zM343 238h2v1h-2zM127 148h2v1h-2zM823 148h2v1h-2zM953 148h2v1h-2zM711 168h2v1h-2zM982 168h2v1h-2zM146 163h2v1h-2zM722 163h2v1h-2zM744 163h4v1h-4zM772 163h4v1h-4zM792 163h7v1h-7zM51 135h2v1h-2zM850 135h2v1h-2zM920 135h4v1h-4zM429 314h2v1h-2zM475 314h2v1h-2zM209 217h3v1h-3zM834 144h2v1h-2zM943 144h2v1h-2zM1154 289h2v1h-2zM879 121h2v1h-2zM882 121h2v1h-2zM966 155h2v1h-2zM876 122h3v1h-3zM1262 418h2v1h-2zM869 124h3v1h-3zM887 124h2v1h-2zM354 244h2v1h-2zM574 262h2v1h-2zM1110 262h2v1h-2zM207 216h2v1h-2zM662 216h2v1h-2zM1046 216h2v1h-2zM339 236h2v1h-2zM80 143h8v1h-8zM118 143h2v1h-2zM941 143h2v1h-2zM961 152h2v1h-2zM125 147h2v1h-2zM825 147h3v1h-3zM951 147h2v1h-2zM181 202h2v1h-2zM199 212h2v1h-2zM818 151h2v1h-2zM959 151h2v1h-2zM363 249h2v1h-2zM357 246h2v1h-2zM867 125h2v1h-2zM1266 421h2v1h-2zM1123 269h2v1h-2zM345 239h2v1h-2zM579 265h2v1h-2zM596 265h4v1h-4zM1115 265h2v1h-2zM335 234h2v1h-2zM186 205h2v1h-2zM567 258h2v1h-2zM121 145h2v1h-2zM832 145h2v1h-2zM945 145h3v1h-3zM739 161h2v1h-2zM784 161h4v1h-4zM801 161h3v1h-3zM1159 292h2v1h-2zM495 308h2v1h-2zM1007 189h2v1h-2zM716 166h3v1h-3zM757 166h3v1h-3zM764 166h3v1h-3zM1030 204h2v1h-2zM347 240h2v1h-2zM123 146h2v1h-2zM828 146h4v1h-4zM948 146h3v1h-3zM337 235h2v1h-2zM1078 235h2v1h-2zM1019 196h2v1h-2zM196 211h3v1h-3zM333 233h2v1h-2zM729 158h6v1h-6zM331 232h2v1h-2zM1074 232h2v1h-2zM1210 355h2v1h-2zM1034 207h2v1h-2zM1014 193h2v1h-2zM5 134h1v1h-1zM8 132h1v1h-1zM120 144h1v1h-1zM129 149h1v1h-1zM132 151h1v1h-1zM133 152h1v1h-1zM136 154h1v1h-1zM137 155h1v1h-1zM140 157h1v1h-1zM141 158h1v1h-1zM142 159h1v1h-1zM143 160h1v1h-1zM144 161h1v1h-1zM145 162h1v1h-1zM148 164h1v1h-1zM149 165h1v1h-1zM150 166h1v2h-1zM151 168h1v1h-1zM152 169h1v2h-1zM153 171h1v1h-1zM154 172h1v1h-1zM155 173h1v2h-1zM156 175h1v1h-1zM157 176h1v1h-1zM158 177h1v1h-1zM159 178h1v2h-1zM160 180h1v1h-1zM161 181h1v1h-1zM162 182h1v1h-1zM163 183h1v1h-1zM164 184h1v1h-1zM165 185h1v1h-1zM166 186h1v1h-1zM167 187h1v1h-1zM168 188h1v1h-1zM169 189h1v1h-1zM170 190h1v1h-1zM171 191h1v1h-1zM172 192h1v1h-1zM173 193h1v1h-1zM174 194h1v1h-1zM175 195h1v2h-1zM176 197h1v1h-1zM177 198h1v1h-1zM178 199h1v1h-1zM179 200h1v1h-1zM180 201h1v1h-1zM185 204h1v1h-1zM188 206h1v1h-1zM189 207h1v1h-1zM192 209h1v1h-1zM353 243h1v1h-1zM356 245h1v1h-1zM365 250h1v1h-1zM366 251h1v1h-1zM367 252h1v2h-1zM368 254h1v1h-1zM369 255h1v1h-1zM370 256h1v1h-1zM371 257h1v1h-1zM372 258h1v1h-1zM373 259h1v1h-1zM374 260h1v1h-1zM375 261h1v1h-1zM376 262h1v1h-1zM377 263h1v1h-1zM378 264h1v1h-1zM379 265h1v1h-1zM380 266h1v1h-1zM381 267h1v1h-1zM382 268h1v1h-1zM383 269h1v1h-1zM384 270h1v1h-1zM385 271h1v1h-1zM386 272h1v1h-1zM387 273h1v2h-1zM388 275h1v1h-1zM389 276h1v1h-1zM390 277h1v1h-1zM391 278h1v2h-1zM392 280h1v1h-1zM393 281h1v1h-1zM394 282h1v1h-1zM395 283h1v2h-1zM396 285h1v1h-1zM397 286h1v1h-1zM400 288h1v1h-1zM401 289h1v1h-1zM402 290h1v1h-1zM403 291h1v2h-1zM404 293h1v1h-1zM405 294h1v1h-1zM406 295h1v1h-1zM407 296h1v2h-1zM408 298h1v1h-1zM409 299h1v1h-1zM410 300h1v1h-1zM411 301h1v1h-1zM412 302h1v1h-1zM413 303h1v1h-1zM416 305h1v1h-1zM417 306h1v1h-1zM420 308h1v1h-1zM425 311h1v1h-1zM428 313h1v1h-1zM501 305h1v1h-1zM504 303h1v1h-1zM505 302h1v1h-1zM508 300h1v1h-1zM509 299h1v1h-1zM510 298h1v1h-1zM511 297h1v1h-1zM512 296h1v1h-1zM513 295h1v1h-1zM514 294h1v1h-1zM515 293h1v1h-1zM516 292h1v1h-1zM517 291h1v1h-1zM518 289h1v2h-1zM519 288h1v1h-1zM520 286h1v2h-1zM521 285h1v1h-1zM522 283h1v2h-1zM523 282h1v1h-1zM524 280h1v2h-1zM525 279h1v1h-1zM526 277h1v2h-1zM527 276h1v1h-1zM528 274h1v2h-1zM529 273h1v1h-1zM530 271h1v2h-1zM531 270h1v1h-1zM532 268h1v2h-1zM533 267h1v1h-1zM536 265h1v1h-1zM537 264h1v1h-1zM538 263h1v1h-1zM539 262h1v1h-1zM540 261h1v1h-1zM541 260h1v1h-1zM544 258h1v1h-1zM573 261h1v1h-1zM576 263h1v1h-1zM609 262h1v1h-1zM610 261h1v1h-1zM611 260h1v1h-1zM612 259h1v1h-1zM613 258h1v1h-1zM614 256h1v2h-1zM615 255h1v1h-1zM616 253h1v2h-1zM617 252h1v1h-1zM618 251h1v1h-1zM619 250h1v1h-1zM620 249h1v1h-1zM621 248h1v1h-1zM622 247h1v1h-1zM623 245h1v2h-1zM624 244h1v1h-1zM625 243h1v1h-1zM626 242h1v1h-1zM627 240h1v2h-1zM628 239h1v1h-1zM629 238h1v1h-1zM632 236h1v1h-1zM633 235h1v1h-1zM634 234h1v1h-1zM635 233h1v1h-1zM636 232h1v1h-1zM649 225h1v1h-1zM652 223h1v1h-1zM657 220h1v1h-1zM660 218h1v1h-1zM661 217h1v1h-1zM664 215h1v1h-1zM665 214h1v1h-1zM666 213h1v1h-1zM667 212h1v1h-1zM668 211h1v1h-1zM669 210h1v1h-1zM670 209h1v1h-1zM671 207h1v2h-1zM672 206h1v1h-1zM673 205h1v1h-1zM674 204h1v1h-1zM675 202h1v2h-1zM676 201h1v1h-1zM677 200h1v1h-1zM678 199h1v1h-1zM679 198h1v1h-1zM680 197h1v1h-1zM681 196h1v1h-1zM682 195h1v1h-1zM683 193h1v2h-1zM684 192h1v1h-1zM685 191h1v1h-1zM686 190h1v1h-1zM687 189h1v1h-1zM688 188h1v1h-1zM689 187h1v1h-1zM690 186h1v1h-1zM691 185h1v1h-1zM692 184h1v1h-1zM693 183h1v1h-1zM694 182h1v1h-1zM695 181h1v1h-1zM696 180h1v1h-1zM697 179h1v1h-1zM700 177h1v1h-1zM701 176h1v1h-1zM704 174h1v1h-1zM705 173h1v1h-1zM706 172h1v1h-1zM707 171h1v1h-1zM708 170h1v1h-1zM721 164h1v1h-1zM724 162h1v1h-1zM725 161h1v1h-1zM728 159h1v1h-1zM809 158h1v1h-1zM812 156h1v1h-1zM813 155h1v1h-1zM816 153h1v1h-1zM817 152h1v1h-1zM820 150h1v1h-1zM836 143h1v1h-1zM849 136h1v1h-1zM852 134h1v1h-1zM853 133h1v1h-1zM856 131h1v1h-1zM881 120h1v1h-1zM884 122h1v1h-1zM889 125h1v1h-1zM892 127h1v1h-1zM900 131h1v1h-1zM965 154h1v1h-1zM968 156h1v1h-1zM969 157h1v1h-1zM970 158h1v1h-1zM971 159h1v1h-1zM972 160h1v1h-1zM973 161h1v1h-1zM976 163h1v1h-1zM977 164h1v1h-1zM980 166h1v1h-1zM981 167h1v1h-1zM984 169h1v1h-1zM985 170h1v1h-1zM986 171h1v1h-1zM987 172h1v1h-1zM988 173h1v1h-1zM989 174h1v1h-1zM990 175h1v1h-1zM991 176h1v1h-1zM992 177h1v1h-1zM993 178h1v1h-1zM994 179h1v1h-1zM995 180h1v1h-1zM996 181h1v1h-1zM997 182h1v1h-1zM998 183h1v1h-1zM999 184h1v1h-1zM1000 185h1v1h-1zM1013 192h1v1h-1zM1016 194h1v1h-1zM1021 197h1v1h-1zM1024 199h1v1h-1zM1025 200h1v1h-1zM1028 202h1v1h-1zM1029 203h1v1h-1zM1032 205h1v1h-1zM1033 206h1v1h-1zM1036 208h1v1h-1zM1037 209h1v1h-1zM1038 210h1v1h-1zM1039 211h1v1h-1zM1040 212h1v1h-1zM1045 215h1v1h-1zM1048 217h1v1h-1zM1069 228h1v1h-1zM1072 230h1v1h-1zM1073 231h1v1h-1zM1076 233h1v1h-1zM1077 234h1v1h-1zM1080 236h1v1h-1zM1081 237h1v1h-1zM1082 238h1v1h-1zM1083 239h1v1h-1zM1084 240h1v1h-1zM1085 241h1v1h-1zM1088 243h1v1h-1zM1089 244h1v1h-1zM1090 245h1v1h-1zM1091 246h1v1h-1zM1092 247h1v1h-1zM1093 248h1v1h-1zM1094 249h1v1h-1zM1095 250h1v1h-1zM1096 251h1v1h-1zM1097 252h1v1h-1zM1098 253h1v1h-1zM1099 254h1v1h-1zM1100 255h1v1h-1zM1101 256h1v1h-1zM1104 258h1v1h-1zM1109 261h1v1h-1zM1112 263h1v1h-1zM1133 274h1v1h-1zM1134 275h1v1h-1zM1135 276h1v1h-1zM1136 277h1v1h-1zM1141 280h1v1h-1zM1144 282h1v1h-1zM1145 283h1v1h-1zM1148 285h1v1h-1zM1153 288h1v1h-1zM1156 290h1v1h-1zM1161 293h1v1h-1zM1162 294h1v1h-1zM1163 295h1v1h-1zM1164 296h1v1h-1zM1165 297h1v1h-1zM1166 298h1v1h-1zM1167 299h1v1h-1zM1168 300h1v1h-1zM1169 301h1v1h-1zM1170 302h1v2h-1zM1171 304h1v1h-1zM1172 305h1v2h-1zM1173 307h1v1h-1zM1174 308h1v1h-1zM1175 309h1v2h-1zM1176 311h1v1h-1zM1177 312h1v1h-1zM1178 313h1v1h-1zM1179 314h1v2h-1zM1180 316h1v1h-1zM1181 317h1v1h-1zM1182 318h1v2h-1zM1183 320h1v1h-1zM1184 321h1v2h-1zM1185 323h1v1h-1zM1186 324h1v2h-1zM1187 326h1v1h-1zM1188 327h1v2h-1zM1189 329h1v1h-1zM1190 330h1v1h-1zM1191 331h1v2h-1zM1192 333h1v1h-1zM1193 334h1v1h-1zM1194 335h1v1h-1zM1195 336h1v2h-1zM1196 338h1v1h-1zM1197 339h1v1h-1zM1198 340h1v1h-1zM1199 341h1v2h-1zM1200 343h1v1h-1zM1201 344h1v1h-1zM1202 345h1v2h-1zM1203 347h1v1h-1zM1204 348h1v2h-1zM1205 350h1v1h-1zM1206 351h1v1h-1zM1207 352h1v1h-1zM1208 353h1v1h-1zM1209 354h1v1h-1zM1212 356h1v1h-1zM1213 357h1v1h-1zM1214 358h1v1h-1zM1215 359h1v1h-1zM1216 360h1v1h-1zM1217 361h1v1h-1zM1218 362h1v1h-1zM1219 363h1v2h-1zM1220 365h1v1h-1zM1221 366h1v1h-1zM1222 367h1v1h-1zM1223 368h1v2h-1zM1224 370h1v1h-1zM1225 371h1v1h-1zM1226 372h1v1h-1zM1227 373h1v2h-1zM1228 375h1v1h-1zM1229 376h1v1h-1zM1230 377h1v1h-1zM1231 378h1v2h-1zM1232 380h1v1h-1zM1233 381h1v1h-1zM1234 382h1v2h-1zM1235 384h1v2h-1zM1236 386h1v2h-1zM1237 388h1v1h-1zM1238 389h1v2h-1zM1239 391h1v1h-1zM1240 392h1v2h-1zM1241 394h1v1h-1zM1242 395h1v2h-1zM1243 397h1v1h-1zM1244 398h1v2h-1zM1245 400h1v1h-1zM1246 401h1v1h-1zM1247 402h1v2h-1zM1248 404h1v1h-1zM1249 405h1v1h-1zM1250 406h1v1h-1zM1251 407h1v2h-1zM1252 409h1v1h-1zM1253 410h1v1h-1zM1254 411h1v1h-1zM1255 412h1v1h-1zM1256 413h1v1h-1zM1257 414h1v1h-1zM1260 416h1v1h-1zM1261 417h1v1h-1zM1264 419h1v1h-1zM1265 420h1v1h-1zM1268 422h1v1h-1z" fill="#0000cd"/>
<path d="M249 215h3v1h-3zM268 215h4v1h-4zM276 215h2v1h-2zM128 179h4v1h-4zM737 179h3v1h-3zM685 152h2v1h-2zM717 176h3v1h-3zM940 176h3v1h-3zM952 176h3v1h-3zM976 176h4v1h-4zM200 243h4v1h-4zM315 243h2v1h-2zM687 153h2v1h-2zM146 192h2v1h-2zM333 254h3v1h-3zM339 254h2v1h-2zM1041 254h3v1h-3zM1053 254h2v1h-2zM1084 254h4v1h-4zM217 231h2v1h-2zM351 262h2v1h-2zM499 262h2v1h-2zM507 262h2v1h-2zM518 262h2v1h-2zM1099 262h2v1h-2zM132 180h2v1h-2zM725 180h7v1h-7zM735 180h2v1h-2zM756 167h3v1h-3zM925 167h2v1h-2zM599 285h2v1h-2zM121 177h3v1h-3zM720 177h2v1h-2zM742 177h2v1h-2zM943 177h2v1h-2zM948 177h4v1h-4zM980 177h4v1h-4zM804 143h2v1h-2zM592 286h7v1h-7zM170 224h2v1h-2zM233 224h9v1h-9zM252 214h4v1h-4zM264 214h4v1h-4zM242 223h2v1h-2zM531 250h2v1h-2zM827 136h2v1h-2zM835 136h2v1h-2zM817 132h3v1h-3zM1095 260h2v1h-2zM12 160h3v1h-3zM51 120h2v1h-2zM829 137h6v1h-6zM349 261h2v1h-2zM501 261h6v1h-6zM1097 261h2v1h-2zM1044 255h4v1h-4zM1051 255h2v1h-2zM1088 255h2v1h-2zM174 227h2v1h-2zM179 230h2v1h-2zM219 230h2v1h-2zM1145 314h3v1h-3zM759 166h2v1h-2zM792 145h4v1h-4zM336 253h3v1h-3zM1055 253h2v1h-2zM1060 253h24v1h-24zM428 357h4v1h-4zM820 133h3v1h-3zM354 264h2v1h-2zM492 264h4v1h-4zM1102 264h2v1h-2zM362 269h2v1h-2zM310 240h2v1h-2zM796 144h8v1h-8zM5 162h3v1h-3zM326 249h2v1h-2zM533 249h3v1h-3zM666 139h2v1h-2zM290 222h2v1h-2zM529 251h2v1h-2zM359 267h2v1h-2zM57 116h2v1h-2zM883 109h2v1h-2zM102 154h2v1h-2zM673 140h2v1h-2zM346 259h2v1h-2zM1093 259h2v1h-2zM193 241h3v1h-3zM207 241h2v1h-2zM548 241h7v1h-7zM934 173h2v1h-2zM959 173h2v1h-2zM968 173h3v1h-3zM82 134h2v1h-2zM823 134h2v1h-2zM838 134h2v1h-2zM320 245h2v1h-2zM702 168h2v1h-2zM753 168h3v1h-3zM927 168h2v1h-2zM825 135h2v1h-2zM322 246h2v1h-2zM225 226h6v1h-6zM124 178h4v1h-4zM722 178h2v1h-2zM740 178h2v1h-2zM945 178h3v1h-3zM984 178h2v1h-2zM256 213h8v1h-8zM196 242h4v1h-4zM204 242h3v1h-3zM313 242h2v1h-2zM545 242h3v1h-3zM555 242h2v1h-2zM421 356h7v1h-7zM432 356h2v1h-2zM486 265h2v1h-2zM272 216h4v1h-4zM489 263h3v1h-3zM496 263h3v1h-3zM509 263h9v1h-9zM287 220h2v1h-2zM54 118h2v1h-2zM806 142h2v1h-2zM142 189h2v1h-2zM750 170h2v1h-2zM930 170h2v1h-2zM862 108h2v1h-2zM873 108h10v1h-10zM182 232h2v1h-2zM961 172h7v1h-7zM538 247h2v1h-2zM709 174h6v1h-6zM957 174h2v1h-2zM971 174h2v1h-2zM330 252h2v1h-2zM1057 252h3v1h-3zM48 121h3v1h-3zM59 115h2v1h-2zM64 115h2v1h-2zM781 146h11v1h-11zM536 248h2v1h-2zM1130 296h2v1h-2zM357 266h2v1h-2zM589 287h3v1h-3zM778 148h2v1h-2zM17 158h3v1h-3zM190 239h2v1h-2zM231 225h2v1h-2zM294 225h2v1h-2zM98 151h2v1h-2zM774 151h2v1h-2zM281 219h6v1h-6zM317 244h3v1h-3zM542 244h2v1h-2zM42 124h2v1h-2zM61 114h3v1h-3zM20 157h2v1h-2zM177 229h2v1h-2zM342 256h2v1h-2zM1048 256h3v1h-3zM675 141h2v1h-2zM306 237h2v1h-2zM134 181h2v1h-2zM732 181h3v1h-3zM222 228h2v1h-2zM298 228h2v1h-2zM15 159h2v1h-2zM8 161h4v1h-4zM694 161h2v1h-2zM1264 456h4v1h-4zM45 122h3v1h-3zM715 175h2v1h-2zM937 175h3v1h-3zM955 175h2v1h-2zM973 175h3v1h-3zM1148 315h3v1h-3zM670 138h2v1h-2zM865 106h6v1h-6zM601 284h5v1h-5zM1257 454h3v1h-3zM1260 455h4v1h-4zM871 107h2v1h-2zM1151 316h2v1h-2zM606 283h2v1h-2zM1250 448h2v1h-2zM22 156h1v1h-1zM23 154h1v2h-1zM24 153h1v1h-1zM25 151h1v2h-1zM26 149h1v2h-1zM27 146h1v3h-1zM28 144h1v2h-1zM29 141h1v3h-1zM30 139h1v2h-1zM31 137h1v2h-1zM32 135h1v2h-1zM33 134h1v1h-1zM34 133h1v1h-1zM35 131h1v2h-1zM36 130h1v1h-1zM37 129h1v1h-1zM38 128h1v1h-1zM39 127h1v1h-1zM40 126h1v1h-1zM41 125h1v1h-1zM44 123h1v1h-1zM53 119h1v1h-1zM56 117h1v1h-1zM66 116h1v1h-1zM67 117h1v1h-1zM68 118h1v1h-1zM69 119h1v1h-1zM70 120h1v1h-1zM71 121h1v1h-1zM72 122h1v1h-1zM73 123h1v1h-1zM74 124h1v1h-1zM75 125h1v2h-1zM76 127h1v1h-1zM77 128h1v1h-1zM78 129h1v1h-1zM79 130h1v2h-1zM80 132h1v1h-1zM81 133h1v1h-1zM84 135h1v1h-1zM85 136h1v1h-1zM86 137h1v1h-1zM87 138h1v2h-1zM88 140h1v1h-1zM89 141h1v1h-1zM90 142h1v1h-1zM91 143h1v2h-1zM92 145h1v1h-1zM93 146h1v1h-1zM94 147h1v1h-1zM95 148h1v1h-1zM96 149h1v1h-1zM97 150h1v1h-1zM100 152h1v1h-1zM101 153h1v1h-1zM104 155h1v1h-1zM105 156h1v1h-1zM106 157h1v1h-1zM107 158h1v2h-1zM108 160h1v1h-1zM109 161h1v1h-1zM110 162h1v2h-1zM111 164h1v1h-1zM112 165h1v2h-1zM113 167h1v1h-1zM114 168h1v2h-1zM115 170h1v1h-1zM116 171h1v2h-1zM117 173h1v1h-1zM118 174h1v1h-1zM119 175h1v1h-1zM120 176h1v1h-1zM136 182h1v1h-1zM137 183h1v1h-1zM138 184h1v1h-1zM139 185h1v2h-1zM140 187h1v1h-1zM141 188h1v1h-1zM144 190h1v1h-1zM145 191h1v1h-1zM148 193h1v1h-1zM149 194h1v1h-1zM150 195h1v1h-1zM151 196h1v2h-1zM152 198h1v1h-1zM153 199h1v1h-1zM154 200h1v2h-1zM155 202h1v1h-1zM156 203h1v2h-1zM157 205h1v1h-1zM158 206h1v2h-1zM159 208h1v2h-1zM160 210h1v2h-1zM161 212h1v1h-1zM162 213h1v1h-1zM163 214h1v2h-1zM164 216h1v1h-1zM165 217h1v1h-1zM166 218h1v2h-1zM167 220h1v1h-1zM168 221h1v2h-1zM169 223h1v1h-1zM172 225h1v1h-1zM173 226h1v1h-1zM176 228h1v1h-1zM181 231h1v1h-1zM184 233h1v1h-1zM185 234h1v1h-1zM186 235h1v1h-1zM187 236h1v1h-1zM188 237h1v1h-1zM189 238h1v1h-1zM192 240h1v1h-1zM209 240h1v1h-1zM210 239h1v1h-1zM211 238h1v1h-1zM212 237h1v1h-1zM213 236h1v1h-1zM214 235h1v1h-1zM215 233h1v2h-1zM216 232h1v1h-1zM221 229h1v1h-1zM224 227h1v1h-1zM244 222h1v1h-1zM245 221h1v1h-1zM246 219h1v2h-1zM247 218h1v1h-1zM248 216h1v2h-1zM278 216h1v1h-1zM279 217h1v1h-1zM280 218h1v1h-1zM289 221h1v1h-1zM292 223h1v1h-1zM293 224h1v1h-1zM296 226h1v1h-1zM297 227h1v1h-1zM300 229h1v1h-1zM301 230h1v1h-1zM302 231h1v2h-1zM303 233h1v1h-1zM304 234h1v2h-1zM305 236h1v1h-1zM308 238h1v1h-1zM309 239h1v1h-1zM312 241h1v1h-1zM324 247h1v1h-1zM325 248h1v1h-1zM328 250h1v1h-1zM329 251h1v1h-1zM332 253h1v1h-1zM341 255h1v1h-1zM344 257h1v1h-1zM345 258h1v1h-1zM348 260h1v1h-1zM353 263h1v1h-1zM356 265h1v1h-1zM361 268h1v1h-1zM364 270h1v1h-1zM365 271h1v1h-1zM366 272h1v1h-1zM367 273h1v1h-1zM368 274h1v1h-1zM369 275h1v1h-1zM370 276h1v1h-1zM371 277h1v2h-1zM372 279h1v1h-1zM373 280h1v1h-1zM374 281h1v1h-1zM375 282h1v2h-1zM376 284h1v1h-1zM377 285h1v1h-1zM378 286h1v2h-1zM379 288h1v2h-1zM380 290h1v2h-1zM381 292h1v1h-1zM382 293h1v2h-1zM383 295h1v1h-1zM384 296h1v2h-1zM385 298h1v2h-1zM386 300h1v2h-1zM387 302h1v2h-1zM388 304h1v2h-1zM389 306h1v2h-1zM390 308h1v2h-1zM391 310h1v2h-1zM392 312h1v2h-1zM393 314h1v1h-1zM394 315h1v2h-1zM395 317h1v1h-1zM396 318h1v2h-1zM397 320h1v1h-1zM398 321h1v2h-1zM399 323h1v2h-1zM400 325h1v2h-1zM401 327h1v1h-1zM402 328h1v2h-1zM403 330h1v2h-1zM404 332h1v2h-1zM405 334h1v1h-1zM406 335h1v2h-1zM407 337h1v1h-1zM408 338h1v2h-1zM409 340h1v1h-1zM410 341h1v2h-1zM411 343h1v2h-1zM412 345h1v2h-1zM413 347h1v1h-1zM414 348h1v1h-1zM415 349h1v1h-1zM416 350h1v1h-1zM417 351h1v1h-1zM418 352h1v1h-1zM419 353h1v2h-1zM420 355h1v1h-1zM434 355h1v1h-1zM435 353h1v2h-1zM436 352h1v1h-1zM437 351h1v1h-1zM438 350h1v1h-1zM439 349h1v1h-1zM440 348h1v1h-1zM441 347h1v1h-1zM442 345h1v2h-1zM443 344h1v1h-1zM444 342h1v2h-1zM445 340h1v2h-1zM446 338h1v2h-1zM447 336h1v2h-1zM448 334h1v2h-1zM449 331h1v3h-1zM450 329h1v2h-1zM451 327h1v2h-1zM452 325h1v2h-1zM453 323h1v2h-1zM454 321h1v2h-1zM455 319h1v2h-1zM456 317h1v2h-1zM457 314h1v3h-1zM458 311h1v3h-1zM459 309h1v2h-1zM460 306h1v3h-1zM461 303h1v3h-1zM462 301h1v2h-1zM463 298h1v3h-1zM464 296h1v2h-1zM465 294h1v2h-1zM466 292h1v2h-1zM467 290h1v2h-1zM468 288h1v2h-1zM469 287h1v1h-1zM470 286h1v1h-1zM471 284h1v2h-1zM472 283h1v1h-1zM473 282h1v1h-1zM474 280h1v2h-1zM475 278h1v2h-1zM476 276h1v2h-1zM477 275h1v1h-1zM478 274h1v1h-1zM479 272h1v2h-1zM480 271h1v1h-1zM481 270h1v1h-1zM482 269h1v1h-1zM483 268h1v1h-1zM484 267h1v1h-1zM485 266h1v1h-1zM488 264h1v1h-1zM520 261h1v1h-1zM521 260h1v1h-1zM522 259h1v1h-1zM523 257h1v2h-1zM524 256h1v1h-1zM525 255h1v1h-1zM526 254h1v1h-1zM527 253h1v1h-1zM528 252h1v1h-1zM540 246h1v1h-1zM541 245h1v1h-1zM544 243h1v1h-1zM557 243h1v1h-1zM558 244h1v1h-1zM559 245h1v1h-1zM560 246h1v1h-1zM561 247h1v1h-1zM562 248h1v1h-1zM563 249h1v2h-1zM564 251h1v1h-1zM565 252h1v1h-1zM566 253h1v1h-1zM567 254h1v2h-1zM568 256h1v1h-1zM569 257h1v1h-1zM570 258h1v1h-1zM571 259h1v2h-1zM572 261h1v1h-1zM573 262h1v2h-1zM574 264h1v2h-1zM575 266h1v2h-1zM576 268h1v2h-1zM577 270h1v1h-1zM578 271h1v2h-1zM579 273h1v2h-1zM580 275h1v2h-1zM581 277h1v1h-1zM582 278h1v1h-1zM583 279h1v2h-1zM584 281h1v1h-1zM585 282h1v1h-1zM586 283h1v1h-1zM587 284h1v2h-1zM588 286h1v1h-1zM608 282h1v1h-1zM609 280h1v2h-1zM610 278h1v2h-1zM611 276h1v2h-1zM612 274h1v2h-1zM613 270h1v4h-1zM614 266h1v4h-1zM615 262h1v4h-1zM616 258h1v4h-1zM617 255h1v3h-1zM618 251h1v4h-1zM619 247h1v4h-1zM620 243h1v4h-1zM621 240h1v3h-1zM622 236h1v4h-1zM623 232h1v4h-1zM624 228h1v4h-1zM625 225h1v3h-1zM626 221h1v4h-1zM627 218h1v3h-1zM628 214h1v4h-1zM629 211h1v3h-1zM630 208h1v3h-1zM631 206h1v2h-1zM632 203h1v3h-1zM633 200h1v3h-1zM634 196h1v4h-1zM635 193h1v3h-1zM636 189h1v4h-1zM637 186h1v3h-1zM638 184h1v2h-1zM639 182h1v2h-1zM640 180h1v2h-1zM641 177h1v3h-1zM642 175h1v2h-1zM643 172h1v3h-1zM644 170h1v2h-1zM645 168h1v2h-1zM646 167h1v1h-1zM647 166h1v1h-1zM648 165h1v1h-1zM649 164h1v1h-1zM650 162h1v2h-1zM651 160h1v2h-1zM652 158h1v2h-1zM653 157h1v1h-1zM654 156h1v1h-1zM655 155h1v1h-1zM656 154h1v1h-1zM657 152h1v2h-1zM658 150h1v2h-1zM659 148h1v2h-1zM660 146h1v2h-1zM661 144h1v2h-1zM662 143h1v1h-1zM663 142h1v1h-1zM664 141h1v1h-1zM665 140h1v1h-1zM668 138h1v1h-1zM669 137h1v1h-1zM672 139h1v1h-1zM677 142h1v1h-1zM678 143h1v2h-1zM679 145h1v1h-1zM680 146h1v2h-1zM681 148h1v1h-1zM682 149h1v1h-1zM683 150h1v1h-1zM684 151h1v1h-1zM689 154h1v1h-1zM690 155h1v2h-1zM691 157h1v1h-1zM692 158h1v2h-1zM693 160h1v1h-1zM696 162h1v1h-1zM697 163h1v1h-1zM698 164h1v1h-1zM699 165h1v1h-1zM700 166h1v1h-1zM701 167h1v1h-1zM704 169h1v1h-1zM705 170h1v1h-1zM706 171h1v1h-1zM707 172h1v1h-1zM708 173h1v1h-1zM724 179h1v1h-1zM744 176h1v1h-1zM745 175h1v1h-1zM746 174h1v1h-1zM747 173h1v1h-1zM748 172h1v1h-1zM749 171h1v1h-1zM752 169h1v1h-1zM761 165h1v1h-1zM762 164h1v1h-1zM763 162h1v2h-1zM764 161h1v1h-1zM765 160h1v1h-1zM766 159h1v1h-1zM767 158h1v1h-1zM768 157h1v1h-1zM769 156h1v1h-1zM770 155h1v1h-1zM771 154h1v1h-1zM772 153h1v1h-1zM773 152h1v1h-1zM776 150h1v1h-1zM777 149h1v1h-1zM780 147h1v1h-1zM808 141h1v1h-1zM809 140h1v1h-1zM810 139h1v1h-1zM811 138h1v1h-1zM812 137h1v1h-1zM813 136h1v1h-1zM814 135h1v1h-1zM815 134h1v1h-1zM816 133h1v1h-1zM837 135h1v1h-1zM840 133h1v1h-1zM841 132h1v1h-1zM842 131h1v1h-1zM843 129h1v2h-1zM844 128h1v1h-1zM845 127h1v1h-1zM846 126h1v1h-1zM847 125h1v1h-1zM848 124h1v1h-1zM849 123h1v1h-1zM850 121h1v2h-1zM851 120h1v1h-1zM852 118h1v2h-1zM853 117h1v1h-1zM854 116h1v1h-1zM855 115h1v1h-1zM856 114h1v1h-1zM857 113h1v1h-1zM858 112h1v1h-1zM859 111h1v1h-1zM860 110h1v1h-1zM861 109h1v1h-1zM864 107h1v1h-1zM885 110h1v1h-1zM886 111h1v1h-1zM887 112h1v1h-1zM888 113h1v1h-1zM889 114h1v1h-1zM890 115h1v2h-1zM891 117h1v2h-1zM892 119h1v2h-1zM893 121h1v1h-1zM894 122h1v1h-1zM895 123h1v2h-1zM896 125h1v1h-1zM897 126h1v1h-1zM898 127h1v2h-1zM899 129h1v2h-1zM900 131h1v2h-1zM901 133h1v1h-1zM902 134h1v1h-1zM903 135h1v2h-1zM904 137h1v1h-1zM905 138h1v2h-1zM906 140h1v2h-1zM907 142h1v2h-1zM908 144h1v2h-1zM909 146h1v2h-1zM910 148h1v1h-1zM911 149h1v2h-1zM912 151h1v1h-1zM913 152h1v1h-1zM914 153h1v2h-1zM915 155h1v1h-1zM916 156h1v2h-1zM917 158h1v1h-1zM918 159h1v1h-1zM919 160h1v2h-1zM920 162h1v1h-1zM921 163h1v1h-1zM922 164h1v1h-1zM923 165h1v1h-1zM924 166h1v1h-1zM929 169h1v1h-1zM932 171h1v1h-1zM933 172h1v1h-1zM936 174h1v1h-1zM986 179h1v1h-1zM987 180h1v1h-1zM988 181h1v1h-1zM989 182h1v1h-1zM990 183h1v1h-1zM991 184h1v2h-1zM992 186h1v1h-1zM993 187h1v1h-1zM994 188h1v1h-1zM995 189h1v1h-1zM996 190h1v1h-1zM997 191h1v1h-1zM998 192h1v1h-1zM999 193h1v1h-1zM1000 194h1v1h-1zM1001 195h1v1h-1zM1002 196h1v1h-1zM1003 197h1v2h-1zM1004 199h1v1h-1zM1005 200h1v1h-1zM1006 201h1v1h-1zM1007 202h1v2h-1zM1008 204h1v1h-1zM1009 205h1v1h-1zM1010 206h1v2h-1zM1011 208h1v2h-1zM1012 210h1v2h-1zM1013 212h1v1h-1zM1014 213h1v1h-1zM1015 214h1v2h-1zM1016 216h1v1h-1zM1017 217h1v1h-1zM1018 218h1v2h-1zM1019 220h1v2h-1zM1020 222h1v2h-1zM1021 224h1v1h-1zM1022 225h1v2h-1zM1023 227h1v1h-1zM1024 228h1v2h-1zM1025 230h1v1h-1zM1026 231h1v2h-1zM1027 233h1v1h-1zM1028 234h1v2h-1zM1029 236h1v1h-1zM1030 237h1v1h-1zM1031 238h1v2h-1zM1032 240h1v1h-1zM1033 241h1v1h-1zM1034 242h1v2h-1zM1035 244h1v1h-1zM1036 245h1v2h-1zM1037 247h1v1h-1zM1038 248h1v2h-1zM1039 250h1v2h-1zM1040 252h1v2h-1zM1090 256h1v1h-1zM1091 257h1v1h-1zM1092 258h1v1h-1zM1101 263h1v1h-1zM1104 265h1v1h-1zM1105 266h1v1h-1zM1106 267h1v1h-1zM1107 268h1v2h-1zM1108 270h1v1h-1zM1109 271h1v1h-1zM1110 272h1v1h-1zM1111 273h1v2h-1zM1112 275h1v1h-1zM1113 276h1v1h-1zM1114 277h1v1h-1zM1115 278h1v2h-1zM1116 280h1v1h-1zM1117 281h1v1h-1zM1118 282h1v1h-1zM1119 283h1v1h-1zM1120 284h1v1h-1zM1121 285h1v1h-1zM1122 286h1v1h-1zM1123 287h1v2h-1zM1124 289h1v1h-1zM1125 290h1v1h-1zM1126 291h1v1h-1zM1127 292h1v2h-1zM1128 294h1v1h-1zM1129 295h1v1h-1zM1132 297h1v1h-1zM1133 298h1v1h-1zM1134 299h1v2h-1zM1135 301h1v1h-1zM1136 302h1v2h-1zM1137 304h1v1h-1zM1138 305h1v1h-1zM1139 306h1v2h-1zM1140 308h1v1h-1zM1141 309h1v1h-1zM1142 310h1v1h-1zM1143 311h1v2h-1zM1144 313h1v1h-1zM1153 317h1v1h-1zM1154 318h1v1h-1zM1155 319h1v2h-1zM1156 321h1v1h-1zM1157 322h1v1h-1zM1158 323h1v1h-1zM1159 324h1v1h-1zM1160 325h1v1h-1zM1161 326h1v1h-1zM1162 327h1v2h-1zM1163 329h1v1h-1zM1164 330h1v2h-1zM1165 332h1v1h-1zM1166 333h1v1h-1zM1167 334h1v1h-1zM1168 335h1v1h-1zM1169 336h1v1h-1zM1170 337h1v2h-1zM1171 339h1v1h-1zM1172 340h1v2h-1zM1173 342h1v1h-1zM1174 343h1v2h-1zM1175 345h1v1h-1zM1176 346h1v2h-1zM1177 348h1v1h-1zM1178 349h1v2h-1zM1179 351h1v2h-1zM1180 353h1v2h-1zM1181 355h1v2h-1zM1182 357h1v2h-1zM1183 359h1v2h-1zM1184 361h1v2h-1zM1185 363h1v1h-1zM1186 364h1v2h-1zM1187 366h1v2h-1zM1188 368h1v2h-1zM1189 370h1v1h-1zM1190 371h1v1h-1zM1191 372h1v1h-1zM1192 373h1v1h-1zM1193 374h1v1h-1zM1194 375h1v1h-1zM1195 376h1v2h-1zM1196 378h1v1h-1zM1197 379h1v1h-1zM1198 380h1v2h-1zM1199 382h1v1h-1zM1200 383h1v2h-1zM1201 385h1v1h-1zM1202 386h1v2h-1zM1203 388h1v1h-1zM1204 389h1v2h-1zM1205 391h1v1h-1zM1206 392h1v1h-1zM1207 393h1v2h-1zM1208 395h1v1h-1zM1209 396h1v1h-1zM1210 397h1v2h-1zM1211 399h1v1h-1zM1212 400h1v2h-1zM1213 402h1v1h-1zM1214 403h1v1h-1zM1215 404h1v2h-1zM1216 406h1v1h-1zM1217 407h1v1h-1zM1218 408h1v1h-1zM1219 409h1v1h-1zM1220 410h1v1h-1zM1221 411h1v1h-1zM1222 412h1v1h-1zM1223 413h1v1h-1zM1224 414h1v1h-1zM1225 415h1v1h-1zM1226 416h1v1h-1zM1227 417h1v1h-1zM1228 418h1v1h-1zM1229 419h1v1h-1zM1230 420h1v2h-1zM1231 422h1v1h-1zM1232 423h1v2h-1zM1233 425h1v1h-1zM1234 426h1v2h-1zM1235 428h1v2h-1zM1236 430h1v2h-1zM1237 432h1v1h-1zM1238 433h1v1h-1zM1239 434h1v2h-1zM1240 436h1v1h-1zM1241 437h1v1h-1zM1242 438h1v1h-1zM1243 439h1v2h-1zM1244 441h1v1h-1zM1245 442h1v1h-1zM1246 443h1v1h-1zM1247 444h1v2h-1zM1248 446h1v1h-1zM1249 447h1v1h-1zM1252 449h1v1h-1zM1253 450h1v1h-1zM1254 451h1v1h-1zM1255 452h1v1h-1zM1256 453h1v1h-1zM1268 457h1v1h-1z" fill="#ff0000"/>
<path d="M138 196h2v1h-2zM700 196h2v1h-2zM34 106h2v1h-2zM485 263h3v1h-3zM747 157h2v1h-2zM84 168h12v1h-12zM98 168h2v1h-2zM925 168h3v1h-3zM932 168h3v1h-3zM965 168h2v1h-2zM118 185h2v1h-2zM200 233h3v1h-3zM283 233h2v1h-2zM697 197h3v1h-3zM234 223h2v1h-2zM125 190h5v1h-5zM320 249h8v1h-8zM1013 249h3v1h-3zM1019 249h2v1h-2zM57 121h2v1h-2zM273 219h3v1h-3zM539 219h2v1h-2zM1191 410h2v1h-2zM230 220h2v1h-2zM276 220h2v1h-2zM534 220h2v1h-2zM237 225h5v1h-5zM657 151h2v1h-2zM802 151h2v1h-2zM1061 241h3v1h-3zM501 272h2v1h-2zM302 253h2v1h-2zM225 217h2v1h-2zM81 167h3v1h-3zM96 167h2v1h-2zM928 167h4v1h-4zM1064 242h4v1h-4zM832 130h2v1h-2zM756 161h2v1h-2zM174 257h2v1h-2zM1029 257h2v1h-2zM454 268h2v1h-2zM1149 338h2v1h-2zM947 182h2v1h-2zM951 182h2v1h-2zM829 129h3v1h-3zM671 145h2v1h-2zM1010 247h2v1h-2zM908 183h2v1h-2zM949 183h2v1h-2zM1198 416h2v1h-2zM1206 416h2v1h-2zM1109 296h3v1h-3zM1114 296h2v1h-2zM133 193h2v1h-2zM30 109h2v1h-2zM634 125h2v1h-2zM821 125h5v1h-5zM579 321h2v1h-2zM1078 254h2v1h-2zM1068 243h2v1h-2zM254 204h2v1h-2zM629 124h5v1h-5zM745 156h2v1h-2zM503 271h2v1h-2zM305 255h3v1h-3zM310 255h2v1h-2zM1026 255h2v1h-2zM361 292h2v1h-2zM481 261h2v1h-2zM1047 261h2v1h-2zM59 120h2v1h-2zM63 120h2v1h-2zM1070 244h2v1h-2zM317 250h3v1h-3zM328 250h3v1h-3zM53 123h2v1h-2zM55 122h2v1h-2zM781 118h2v1h-2zM186 237h2v1h-2zM1217 420h3v1h-3zM109 179h3v1h-3zM214 215h2v1h-2zM1008 246h2v1h-2zM203 232h2v1h-2zM281 232h2v1h-2zM916 177h2v1h-2zM732 164h4v1h-4zM488 264h6v1h-6zM1037 264h3v1h-3zM1042 264h2v1h-2zM297 256h2v1h-2zM308 256h2v1h-2zM250 207h2v1h-2zM913 178h3v1h-3zM169 260h2v1h-2zM473 260h3v1h-3zM479 260h2v1h-2zM331 251h2v1h-2zM853 92h2v1h-2zM483 262h2v1h-2zM1045 262h2v1h-2zM1031 258h2v1h-2zM923 169h2v1h-2zM935 169h2v1h-2zM967 169h2v1h-2zM676 143h2v1h-2zM793 143h2v1h-2zM736 163h2v1h-2zM901 184h7v1h-7zM189 235h2v1h-2zM217 213h5v1h-5zM751 159h2v1h-2zM171 259h2v1h-2zM476 259h3v1h-3zM729 165h3v1h-3zM760 165h2v1h-2zM314 252h2v1h-2zM363 291h2v1h-2zM366 291h2v1h-2zM1102 291h2v1h-2zM861 86h3v1h-3zM867 86h2v1h-2zM358 290h2v1h-2zM1130 313h2v1h-2zM1016 248h3v1h-3zM135 194h2v1h-2zM1210 415h2v1h-2zM1153 340h9v1h-9zM122 188h2v1h-2zM370 294h2v1h-2zM1106 294h2v1h-2zM742 158h2v1h-2zM749 158h2v1h-2zM669 144h2v1h-2zM795 144h2v1h-2zM1220 419h6v1h-6zM257 202h5v1h-5zM1126 310h2v1h-2zM1005 245h3v1h-3zM227 218h2v1h-2zM537 218h2v1h-2zM1040 265h2v1h-2zM197 234h3v1h-3zM945 181h2v1h-2zM953 181h2v1h-2zM983 181h2v1h-2zM40 105h2v1h-2zM130 191h2v1h-2zM1112 295h2v1h-2zM682 155h2v1h-2zM753 160h3v1h-3zM506 269h2v1h-2zM970 171h2v1h-2zM921 170h2v1h-2zM1151 339h2v1h-2zM974 174h2v1h-2zM577 322h2v1h-2zM855 91h2v1h-2zM61 119h2v1h-2zM112 180h2v1h-2zM955 180h2v1h-2zM981 180h2v1h-2zM1204 417h2v1h-2zM191 236h2v1h-2zM194 236h2v1h-2zM410 381h2v1h-2zM37 104h3v1h-3zM1189 409h2v1h-2zM1201 418h3v1h-3zM1214 418h2v1h-2zM864 85h3v1h-3zM5 150h1v1h-1zM6 149h1v1h-1zM7 148h1v1h-1zM8 147h1v1h-1zM9 145h1v2h-1zM10 143h1v2h-1zM11 141h1v2h-1zM12 139h1v2h-1zM13 136h1v3h-1zM14 134h1v2h-1zM15 132h1v2h-1zM16 130h1v2h-1zM17 129h1v1h-1zM18 127h1v2h-1zM19 125h1v2h-1zM20 123h1v2h-1zM21 122h1v1h-1zM22 120h1v2h-1zM23 119h1v1h-1zM24 117h1v2h-1zM25 116h1v1h-1zM26 114h1v2h-1zM27 113h1v1h-1zM28 111h1v2h-1zM29 110h1v1h-1zM32 108h1v1h-1zM33 107h1v1h-1zM36 105h1v1h-1zM42 106h1v2h-1zM43 108h1v2h-1zM44 110h1v2h-1zM45 112h1v1h-1zM46 113h1v2h-1zM47 115h1v2h-1zM48 117h1v2h-1zM49 119h1v1h-1zM50 120h1v1h-1zM51 121h1v1h-1zM52 122h1v1h-1zM65 121h1v1h-1zM66 122h1v2h-1zM67 124h1v1h-1zM68 125h1v2h-1zM69 127h1v2h-1zM70 129h1v3h-1zM71 132h1v2h-1zM72 134h1v3h-1zM73 137h1v4h-1zM74 141h1v4h-1zM75 145h1v5h-1zM76 150h1v4h-1zM77 154h1v4h-1zM78 158h1v3h-1zM79 161h1v2h-1zM80 163h1v3h-1zM81 166h1v1h-1zM100 169h1v1h-1zM101 170h1v1h-1zM102 171h1v1h-1zM103 172h1v2h-1zM104 174h1v1h-1zM105 175h1v1h-1zM106 176h1v1h-1zM107 177h1v1h-1zM108 178h1v1h-1zM114 181h1v1h-1zM115 182h1v1h-1zM116 183h1v1h-1zM117 184h1v1h-1zM120 186h1v1h-1zM121 187h1v1h-1zM124 189h1v1h-1zM132 192h1v1h-1zM137 195h1v1h-1zM140 197h1v1h-1zM141 198h1v1h-1zM142 199h1v1h-1zM143 200h1v1h-1zM144 201h1v1h-1zM145 202h1v2h-1zM146 204h1v2h-1zM147 206h1v2h-1zM148 208h1v2h-1zM149 210h1v2h-1zM150 212h1v3h-1zM151 215h1v2h-1zM152 217h1v3h-1zM153 220h1v3h-1zM154 223h1v2h-1zM155 225h1v2h-1zM156 227h1v2h-1zM157 229h1v3h-1zM158 232h1v3h-1zM159 235h1v4h-1zM160 239h1v3h-1zM161 242h1v3h-1zM162 245h1v2h-1zM163 247h1v2h-1zM164 249h1v2h-1zM165 251h1v3h-1zM166 254h1v2h-1zM167 256h1v2h-1zM168 258h1v2h-1zM173 258h1v1h-1zM176 256h1v1h-1zM177 254h1v2h-1zM178 251h1v3h-1zM179 249h1v2h-1zM180 246h1v3h-1zM181 244h1v2h-1zM182 242h1v2h-1zM183 241h1v1h-1zM184 239h1v2h-1zM185 238h1v1h-1zM188 236h1v1h-1zM193 237h1v1h-1zM196 235h1v1h-1zM205 231h1v1h-1zM206 229h1v2h-1zM207 228h1v1h-1zM208 226h1v2h-1zM209 224h1v2h-1zM210 222h1v2h-1zM211 220h1v2h-1zM212 218h1v2h-1zM213 216h1v2h-1zM216 214h1v1h-1zM222 214h1v1h-1zM223 215h1v1h-1zM224 216h1v1h-1zM229 219h1v1h-1zM232 221h1v1h-1zM233 222h1v1h-1zM236 224h1v1h-1zM242 224h1v1h-1zM243 222h1v2h-1zM244 221h1v1h-1zM245 219h1v2h-1zM246 216h1v3h-1zM247 213h1v3h-1zM248 210h1v3h-1zM249 208h1v2h-1zM252 206h1v1h-1zM253 205h1v1h-1zM256 203h1v1h-1zM262 203h1v1h-1zM263 204h1v1h-1zM264 205h1v1h-1zM265 206h1v2h-1zM266 208h1v2h-1zM267 210h1v2h-1zM268 212h1v2h-1zM269 214h1v2h-1zM270 216h1v1h-1zM271 217h1v1h-1zM272 218h1v1h-1zM277 221h1v1h-1zM278 222h1v3h-1zM279 225h1v3h-1zM280 228h1v3h-1zM281 231h1v1h-1zM285 234h1v1h-1zM286 235h1v2h-1zM287 237h1v1h-1zM288 238h1v2h-1zM289 240h1v2h-1zM290 242h1v2h-1zM291 244h1v2h-1zM292 246h1v2h-1zM293 248h1v2h-1zM294 250h1v2h-1zM295 252h1v2h-1zM296 254h1v2h-1zM297 257h1v1h-1zM299 254h1v2h-1zM300 253h1v1h-1zM301 252h1v1h-1zM304 254h1v1h-1zM312 254h1v1h-1zM313 253h1v1h-1zM316 251h1v1h-1zM333 252h1v1h-1zM334 253h1v1h-1zM335 254h1v1h-1zM336 255h1v1h-1zM337 256h1v1h-1zM338 257h1v1h-1zM339 258h1v2h-1zM340 260h1v1h-1zM341 261h1v2h-1zM342 263h1v2h-1zM343 265h1v2h-1zM344 267h1v2h-1zM345 269h1v1h-1zM346 270h1v2h-1zM347 272h1v2h-1zM348 274h1v2h-1zM349 276h1v1h-1zM350 277h1v2h-1zM351 279h1v2h-1zM352 281h1v2h-1zM353 283h1v1h-1zM354 284h1v2h-1zM355 286h1v1h-1zM356 287h1v2h-1zM357 289h1v1h-1zM360 291h1v1h-1zM365 290h1v1h-1zM368 292h1v1h-1zM369 293h1v1h-1zM372 295h1v1h-1zM373 296h1v2h-1zM374 298h1v2h-1zM375 300h1v2h-1zM376 302h1v2h-1zM377 304h1v2h-1zM378 306h1v2h-1zM379 308h1v3h-1zM380 311h1v2h-1zM381 313h1v3h-1zM382 316h1v3h-1zM383 319h1v4h-1zM384 323h1v3h-1zM385 326h1v3h-1zM386 329h1v3h-1zM387 332h1v2h-1zM388 334h1v3h-1zM389 337h1v3h-1zM390 340h1v3h-1zM391 343h1v4h-1zM392 347h1v3h-1zM393 350h1v2h-1zM394 352h1v2h-1zM395 354h1v2h-1zM396 356h1v2h-1zM397 358h1v2h-1zM398 360h1v2h-1zM399 362h1v2h-1zM400 364h1v2h-1zM401 366h1v2h-1zM402 368h1v2h-1zM403 370h1v3h-1zM404 373h1v2h-1zM405 375h1v2h-1zM406 377h1v1h-1zM407 378h1v1h-1zM408 379h1v1h-1zM409 380h1v1h-1zM412 382h1v1h-1zM413 383h1v1h-1zM414 382h1v1h-1zM415 381h1v1h-1zM416 380h1v1h-1zM417 379h1v1h-1zM418 377h1v2h-1zM419 375h1v2h-1zM420 373h1v2h-1zM421 370h1v3h-1zM422 366h1v4h-1zM423 362h1v4h-1zM424 358h1v4h-1zM425 355h1v3h-1zM426 352h1v3h-1zM427 348h1v4h-1zM428 345h1v3h-1zM429 342h1v3h-1zM430 338h1v4h-1zM431 335h1v3h-1zM432 331h1v4h-1zM433 327h1v4h-1zM434 323h1v4h-1zM435 319h1v4h-1zM436 315h1v4h-1zM437 312h1v3h-1zM438 309h1v3h-1zM439 306h1v3h-1zM440 303h1v3h-1zM441 301h1v2h-1zM442 300h1v1h-1zM443 299h1v1h-1zM444 298h1v1h-1zM445 296h1v2h-1zM446 292h1v4h-1zM447 288h1v4h-1zM448 284h1v4h-1zM449 281h1v3h-1zM450 278h1v3h-1zM451 274h1v4h-1zM452 271h1v3h-1zM453 269h1v2h-1zM456 267h1v1h-1zM457 265h1v2h-1zM458 263h1v2h-1zM459 261h1v2h-1zM460 259h1v2h-1zM461 256h1v3h-1zM462 254h1v2h-1zM463 252h1v2h-1zM464 250h1v2h-1zM465 249h1v1h-1zM466 250h1v2h-1zM467 252h1v1h-1zM468 253h1v2h-1zM469 255h1v1h-1zM470 256h1v1h-1zM471 257h1v2h-1zM472 259h1v1h-1zM494 265h1v1h-1zM495 266h1v1h-1zM496 267h1v1h-1zM497 268h1v1h-1zM498 269h1v1h-1zM499 270h1v1h-1zM500 271h1v1h-1zM505 270h1v1h-1zM508 268h1v1h-1zM509 267h1v1h-1zM510 266h1v1h-1zM511 264h1v2h-1zM512 263h1v1h-1zM513 262h1v1h-1zM514 261h1v1h-1zM515 259h1v2h-1zM516 258h1v1h-1zM517 256h1v2h-1zM518 254h1v2h-1zM519 251h1v3h-1zM520 249h1v2h-1zM521 246h1v3h-1zM522 244h1v2h-1zM523 242h1v2h-1zM524 240h1v2h-1zM525 237h1v3h-1zM526 234h1v3h-1zM527 232h1v2h-1zM528 229h1v3h-1zM529 227h1v2h-1zM530 225h1v2h-1zM531 224h1v1h-1zM532 222h1v2h-1zM533 221h1v1h-1zM536 219h1v1h-1zM541 220h1v1h-1zM542 221h1v2h-1zM543 223h1v2h-1zM544 225h1v2h-1zM545 227h1v2h-1zM546 229h1v2h-1zM547 231h1v2h-1zM548 233h1v2h-1zM549 235h1v3h-1zM550 238h1v2h-1zM551 240h1v3h-1zM552 243h1v2h-1zM553 245h1v3h-1zM554 248h1v3h-1zM555 251h1v3h-1zM556 254h1v3h-1zM557 257h1v4h-1zM558 261h1v5h-1zM559 266h1v4h-1zM560 270h1v5h-1zM561 275h1v5h-1zM562 280h1v4h-1zM563 284h1v5h-1zM564 289h1v4h-1zM565 293h1v4h-1zM566 297h1v3h-1zM567 300h1v2h-1zM568 302h1v3h-1zM569 305h1v3h-1zM570 308h1v2h-1zM571 310h1v3h-1zM572 313h1v2h-1zM573 315h1v2h-1zM574 317h1v2h-1zM575 319h1v1h-1zM576 320h1v2h-1zM581 319h1v2h-1zM582 317h1v2h-1zM583 315h1v2h-1zM584 313h1v2h-1zM585 311h1v2h-1zM586 310h1v1h-1zM587 308h1v2h-1zM588 307h1v1h-1zM589 304h1v3h-1zM590 298h1v6h-1zM591 293h1v5h-1zM592 287h1v6h-1zM593 282h1v5h-1zM594 277h1v5h-1zM595 273h1v4h-1zM596 268h1v5h-1zM597 263h1v5h-1zM598 259h1v4h-1zM599 255h1v4h-1zM600 251h1v4h-1zM601 248h1v3h-1zM602 246h1v2h-1zM603 245h1v1h-1zM604 243h1v2h-1zM605 241h1v2h-1zM606 237h1v4h-1zM607 234h1v3h-1zM608 230h1v4h-1zM609 227h1v3h-1zM610 225h1v2h-1zM611 223h1v2h-1zM612 221h1v2h-1zM613 216h1v5h-1zM614 210h1v6h-1zM615 204h1v6h-1zM616 198h1v6h-1zM617 192h1v6h-1zM618 187h1v5h-1zM619 181h1v6h-1zM620 176h1v5h-1zM621 170h1v6h-1zM622 163h1v7h-1zM623 155h1v8h-1zM624 148h1v7h-1zM625 142h1v6h-1zM626 137h1v5h-1zM627 132h1v5h-1zM628 127h1v5h-1zM629 125h1v2h-1zM636 126h1v1h-1zM637 127h1v2h-1zM638 129h1v2h-1zM639 131h1v2h-1zM640 133h1v2h-1zM641 135h1v2h-1zM642 137h1v1h-1zM643 138h1v2h-1zM644 140h1v1h-1zM645 141h1v2h-1zM646 143h1v2h-1zM647 145h1v2h-1zM648 147h1v2h-1zM649 149h1v2h-1zM650 147h1v2h-1zM651 145h1v2h-1zM652 143h1v2h-1zM653 141h1v2h-1zM654 143h1v3h-1zM655 146h1v2h-1zM656 148h1v3h-1zM657 152h1v1h-1zM658 150h1v1h-1zM659 149h1v1h-1zM660 147h1v2h-1zM661 146h1v1h-1zM662 147h1v1h-1zM663 148h1v1h-1zM664 149h1v1h-1zM665 150h1v1h-1zM666 148h1v2h-1zM667 147h1v1h-1zM668 145h1v2h-1zM673 146h1v1h-1zM674 145h1v1h-1zM675 144h1v1h-1zM677 142h1v1h-1zM678 144h1v3h-1zM679 147h1v3h-1zM680 150h1v3h-1zM681 153h1v2h-1zM684 156h1v1h-1zM685 157h1v2h-1zM686 159h1v4h-1zM687 163h1v3h-1zM688 166h1v4h-1zM689 170h1v3h-1zM690 173h1v3h-1zM691 176h1v4h-1zM692 180h1v3h-1zM693 183h1v3h-1zM694 186h1v3h-1zM695 189h1v4h-1zM696 193h1v3h-1zM697 196h1v1h-1zM702 197h1v1h-1zM703 198h1v2h-1zM704 200h1v1h-1zM705 201h1v1h-1zM706 200h1v1h-1zM707 199h1v1h-1zM708 198h1v1h-1zM709 196h1v2h-1zM710 194h1v2h-1zM711 192h1v2h-1zM712 190h1v2h-1zM713 189h1v1h-1zM714 187h1v2h-1zM715 185h1v2h-1zM716 183h1v2h-1zM717 182h1v1h-1zM718 181h1v1h-1zM719 180h1v1h-1zM720 179h1v1h-1zM721 178h1v1h-1zM722 176h1v2h-1zM723 174h1v2h-1zM724 172h1v2h-1zM725 171h1v1h-1zM726 169h1v2h-1zM727 168h1v1h-1zM728 166h1v2h-1zM738 162h1v1h-1zM739 161h1v1h-1zM740 160h1v1h-1zM741 159h1v1h-1zM744 157h1v1h-1zM758 162h1v1h-1zM759 163h1v2h-1zM761 166h1v1h-1zM762 163h1v2h-1zM763 161h1v2h-1zM764 159h1v2h-1zM765 156h1v3h-1zM766 154h1v2h-1zM767 152h1v2h-1zM768 150h1v2h-1zM769 147h1v3h-1zM770 144h1v3h-1zM771 142h1v2h-1zM772 139h1v3h-1zM773 136h1v3h-1zM774 134h1v2h-1zM775 132h1v2h-1zM776 130h1v2h-1zM777 127h1v3h-1zM778 124h1v3h-1zM779 122h1v2h-1zM780 119h1v3h-1zM781 117h1v1h-1zM782 119h1v1h-1zM783 120h1v2h-1zM784 122h1v2h-1zM785 124h1v2h-1zM786 126h1v3h-1zM787 129h1v2h-1zM788 131h1v3h-1zM789 134h1v3h-1zM790 137h1v2h-1zM791 139h1v2h-1zM792 141h1v2h-1zM797 145h1v1h-1zM798 146h1v2h-1zM799 148h1v2h-1zM800 150h1v2h-1zM801 152h1v1h-1zM804 150h1v1h-1zM805 149h1v1h-1zM806 147h1v2h-1zM807 145h1v2h-1zM808 143h1v2h-1zM809 142h1v1h-1zM810 140h1v2h-1zM811 138h1v2h-1zM812 136h1v2h-1zM813 135h1v1h-1zM814 134h1v1h-1zM815 133h1v1h-1zM816 132h1v1h-1zM817 131h1v1h-1zM818 129h1v2h-1zM819 128h1v1h-1zM820 126h1v2h-1zM826 126h1v1h-1zM827 127h1v1h-1zM828 128h1v1h-1zM834 129h1v1h-1zM835 128h1v1h-1zM836 127h1v1h-1zM837 126h1v1h-1zM838 125h1v1h-1zM839 123h1v2h-1zM840 122h1v1h-1zM841 121h1v1h-1zM842 119h1v2h-1zM843 117h1v2h-1zM844 115h1v2h-1zM845 113h1v2h-1zM846 111h1v2h-1zM847 109h1v2h-1zM848 107h1v2h-1zM849 104h1v3h-1zM850 101h1v3h-1zM851 97h1v4h-1zM852 94h1v3h-1zM853 93h1v1h-1zM857 90h1v1h-1zM858 89h1v1h-1zM859 88h1v1h-1zM860 87h1v1h-1zM869 87h1v3h-1zM870 90h1v4h-1zM871 94h1v4h-1zM872 98h1v4h-1zM873 102h1v3h-1zM874 105h1v2h-1zM875 107h1v2h-1zM876 109h1v2h-1zM877 111h1v3h-1zM878 114h1v2h-1zM879 116h1v3h-1zM880 119h1v2h-1zM881 121h1v4h-1zM882 125h1v4h-1zM883 129h1v4h-1zM884 133h1v4h-1zM885 137h1v4h-1zM886 141h1v3h-1zM887 144h1v4h-1zM888 148h1v3h-1zM889 151h1v3h-1zM890 154h1v2h-1zM891 156h1v3h-1zM892 159h1v2h-1zM893 161h1v3h-1zM894 164h1v2h-1zM895 166h1v2h-1zM896 168h1v2h-1zM897 170h1v3h-1zM898 173h1v3h-1zM899 176h1v4h-1zM900 180h1v3h-1zM901 183h1v1h-1zM910 182h1v1h-1zM911 180h1v2h-1zM912 179h1v1h-1zM918 175h1v2h-1zM919 173h1v2h-1zM920 171h1v2h-1zM937 170h1v1h-1zM938 171h1v1h-1zM939 172h1v2h-1zM940 174h1v1h-1zM941 175h1v1h-1zM942 176h1v2h-1zM943 178h1v1h-1zM944 179h1v2h-1zM957 179h1v1h-1zM958 177h1v2h-1zM959 176h1v1h-1zM960 174h1v2h-1zM961 173h1v1h-1zM962 172h1v1h-1zM963 170h1v2h-1zM964 169h1v1h-1zM969 170h1v1h-1zM972 172h1v1h-1zM973 173h1v1h-1zM976 175h1v1h-1zM977 176h1v1h-1zM978 177h1v1h-1zM979 178h1v1h-1zM980 179h1v1h-1zM985 182h1v2h-1zM986 184h1v3h-1zM987 187h1v2h-1zM988 189h1v3h-1zM989 192h1v3h-1zM990 195h1v3h-1zM991 198h1v2h-1zM992 200h1v3h-1zM993 203h1v3h-1zM994 206h1v3h-1zM995 209h1v4h-1zM996 213h1v3h-1zM997 216h1v3h-1zM998 219h1v4h-1zM999 223h1v4h-1zM1000 227h1v4h-1zM1001 231h1v3h-1zM1002 234h1v3h-1zM1003 237h1v4h-1zM1004 241h1v3h-1zM1005 244h1v1h-1zM1012 248h1v1h-1zM1021 250h1v1h-1zM1022 251h1v1h-1zM1023 252h1v1h-1zM1024 253h1v1h-1zM1025 254h1v1h-1zM1028 256h1v1h-1zM1033 259h1v1h-1zM1034 260h1v1h-1zM1035 261h1v2h-1zM1036 263h1v1h-1zM1044 263h1v1h-1zM1049 259h1v2h-1zM1050 257h1v2h-1zM1051 255h1v2h-1zM1052 253h1v2h-1zM1053 252h1v1h-1zM1054 250h1v2h-1zM1055 249h1v1h-1zM1056 247h1v2h-1zM1057 246h1v1h-1zM1058 245h1v1h-1zM1059 243h1v2h-1zM1060 242h1v1h-1zM1072 245h1v1h-1zM1073 246h1v1h-1zM1074 247h1v2h-1zM1075 249h1v2h-1zM1076 251h1v2h-1zM1077 253h1v1h-1zM1080 255h1v1h-1zM1081 256h1v1h-1zM1082 257h1v1h-1zM1083 258h1v1h-1zM1084 259h1v1h-1zM1085 260h1v1h-1zM1086 261h1v1h-1zM1087 262h1v1h-1zM1088 263h1v1h-1zM1089 264h1v3h-1zM1090 267h1v4h-1zM1091 271h1v4h-1zM1092 275h1v4h-1zM1093 279h1v2h-1zM1094 281h1v2h-1zM1095 283h1v1h-1zM1096 284h1v2h-1zM1097 286h1v1h-1zM1098 287h1v1h-1zM1099 288h1v1h-1zM1100 289h1v1h-1zM1101 290h1v1h-1zM1104 292h1v1h-1zM1105 293h1v1h-1zM1108 295h1v1h-1zM1116 297h1v1h-1zM1117 298h1v1h-1zM1118 299h1v1h-1zM1119 300h1v2h-1zM1120 302h1v1h-1zM1121 303h1v1h-1zM1122 304h1v2h-1zM1123 306h1v1h-1zM1124 307h1v2h-1zM1125 309h1v1h-1zM1128 311h1v1h-1zM1129 312h1v1h-1zM1132 314h1v1h-1zM1133 315h1v1h-1zM1134 316h1v1h-1zM1135 317h1v2h-1zM1136 319h1v1h-1zM1137 320h1v1h-1zM1138 321h1v2h-1zM1139 323h1v2h-1zM1140 325h1v2h-1zM1141 327h1v1h-1zM1142 328h1v2h-1zM1143 330h1v2h-1zM1144 332h1v2h-1zM1145 334h1v1h-1zM1146 335h1v1h-1zM1147 336h1v1h-1zM1148 337h1v1h-1zM1162 341h1v1h-1zM1163 342h1v2h-1zM1164 344h1v1h-1zM1165 345h1v2h-1zM1166 347h1v2h-1zM1167 349h1v2h-1zM1168 351h1v2h-1zM1169 353h1v2h-1zM1170 355h1v3h-1zM1171 358h1v4h-1zM1172 362h1v3h-1zM1173 365h1v3h-1zM1174 368h1v2h-1zM1175 370h1v3h-1zM1176 373h1v2h-1zM1177 375h1v3h-1zM1178 378h1v3h-1zM1179 381h1v3h-1zM1180 384h1v3h-1zM1181 387h1v3h-1zM1182 390h1v3h-1zM1183 393h1v2h-1zM1184 395h1v3h-1zM1185 398h1v3h-1zM1186 401h1v2h-1zM1187 403h1v3h-1zM1188 406h1v2h-1zM1189 408h1v1h-1zM1193 411h1v1h-1zM1194 412h1v1h-1zM1195 413h1v1h-1zM1196 414h1v1h-1zM1197 415h1v1h-1zM1200 417h1v1h-1zM1208 415h1v1h-1zM1209 414h1v1h-1zM1212 416h1v1h-1zM1213 417h1v1h-1zM1216 419h1v1h-1zM1225 420h1v1h-1zM1226 421h1v2h-1zM1227 423h1v3h-1zM1228 426h1v2h-1zM1229 428h1v3h-1zM1230 431h1v3h-1zM1231 434h1v2h-1zM1232 436h1v3h-1zM1233 439h1v4h-1zM1234 443h1v4h-1zM1235 447h1v4h-1zM1236 451h1v4h-1zM1237 455h1v3h-1zM1238 458h1v4h-1zM1239 462h1v4h-1zM1240 466h1v4h-1zM1241 470h1v3h-1zM1242 473h1v3h-1zM1243 476h1v4h-1zM1244 480h1v3h-1zM1245 483h1v2h-1zM1246 485h1v2h-1zM1247 487h1v1h-1zM1248 488h1v2h-1zM1249 490h1v1h-1zM1250 489h1v1h-1zM1251 487h1v2h-1zM1252 486h1v1h-1zM1253 485h1v1h-1zM1254 483h1v2h-1zM1255 482h1v1h-1zM1256 480h1v2h-1zM1257 478h1v2h-1zM1258 475h1v3h-1zM1259 472h1v3h-1zM1260 469h1v3h-1zM1261 466h1v3h-1zM1262 463h1v3h-1zM1263 459h1v4h-1zM1264 456h1v3h-1zM1265 453h1v3h-1zM1266 451h1v2h-1zM1267 449h1v2h-1zM1268 447h1v2h-1zM1269 446h1v1h-1z" fill="#ffa500"/>
<rect x="5" y="42" width="1592" height="2" fill="#ff0000" />
<rect x="5" y="147" width="1592" height="2" fill="#ff0000" />
<rect x="5" y="250" width="1592" height="2" fill="#ff0000" />
<rect x="5" y="371" width="1592" height="2" fill="#00ff00" />
<rect x="5" y="496" width="1592" height="2" fill="#0000ff" />
<path d="M6 560.5H1597" stroke="#c0c0c0" stroke-width="1" stroke-dasharray="3 3" fill="none"/>
<path d="M6 596.5H1597" stroke="#c0c0c0" stroke-width="1" stroke-dasharray="3 3" fill="none"/>
<path d="M86 583h2v1h-2zM184 583h2v1h-2zM225 583h5v1h-5zM287 583h2v1h-2zM304 583h4v1h-4zM312 583h3v1h-3zM324 583h2v1h-2zM873 583h2v1h-2zM912 583h8v1h-8zM923 583h2v1h-2zM928 583h3v1h-3zM967 583h2v1h-2zM72 589h4v1h-4zM109 589h2v1h-2zM133 589h2v1h-2zM569 589h3v1h-3zM888 589h3v1h-3zM941 589h3v1h-3zM1088 589h2v1h-2zM1110 589h2v1h-2zM1123 589h2v1h-2zM1128 589h3v1h-3zM1152 589h2v1h-2zM92 586h4v1h-4zM128 586h2v1h-2zM296 586h3v1h-3zM329 586h3v1h-3zM336 586h2v1h-2zM417 586h2v1h-2zM906 586h2v1h-2zM1048 586h2v1h-2zM1081 586h2v1h-2zM1104 586h3v1h-3zM989 597h3v1h-3zM1093 597h2v1h-2zM1165 597h5v1h-5zM1193 597h3v1h-3zM22 570h2v1h-2zM477 570h3v1h-3zM535 570h2v1h-2zM539 570h3v1h-3zM840 570h4v1h-4zM860 570h3v1h-3zM256 577h2v1h-2zM427 577h2v1h-2zM432 577h2v1h-2zM495 577h2v1h-2zM711 577h2v1h-2zM716 577h10v1h-10zM794 577h2v1h-2zM802 577h2v1h-2zM825 577h2v1h-2zM1021 596h5v1h-5zM1040 596h2v1h-2zM206 578h2v1h-2zM218 578h2v1h-2zM258 578h2v1h-2zM429 578h3v1h-3zM492 578h3v1h-3zM709 578h2v1h-2zM753 578h3v1h-3zM827 578h2v1h-2zM1053 578h3v1h-3zM25 568h3v1h-3zM32 568h4v1h-4zM772 568h2v1h-2zM521 565h3v1h-3zM202 579h2v1h-2zM233 579h3v1h-3zM240 579h2v1h-2zM269 579h2v1h-2zM489 579h3v1h-3zM685 579h2v1h-2zM756 579h4v1h-4zM786 579h2v1h-2zM956 579h6v1h-6zM1266 579h2v1h-2zM504 574h3v1h-3zM658 574h2v1h-2zM675 574h2v1h-2zM741 574h3v1h-3zM807 574h2v1h-2zM13 571h3v1h-3zM20 571h2v1h-2zM516 571h2v1h-2zM537 571h2v1h-2zM779 571h3v1h-3zM813 571h5v1h-5zM857 571h3v1h-3zM863 571h2v1h-2zM437 567h2v1h-2zM456 567h2v1h-2zM530 567h2v1h-2zM593 567h3v1h-3zM765 567h7v1h-7zM449 566h7v1h-7zM458 566h2v1h-2zM524 566h6v1h-6zM165 594h2v1h-2zM348 594h6v1h-6zM1008 594h3v1h-3zM1032 594h6v1h-6zM1140 594h4v1h-4zM1219 594h2v1h-2zM1224 594h2v1h-2zM167 595h3v1h-3zM369 595h5v1h-5zM1005 595h3v1h-3zM1011 595h2v1h-2zM1026 595h2v1h-2zM1038 595h2v1h-2zM1137 595h3v1h-3zM1144 595h2v1h-2zM1213 595h6v1h-6zM69 588h3v1h-3zM100 588h3v1h-3zM111 588h2v1h-2zM114 588h2v1h-2zM173 588h3v1h-3zM189 588h5v1h-5zM1078 588h2v1h-2zM1085 588h3v1h-3zM1121 588h2v1h-2zM1253 588h2v1h-2zM16 572h4v1h-4zM513 572h3v1h-3zM643 572h2v1h-2zM646 572h2v1h-2zM669 572h3v1h-3zM777 572h2v1h-2zM811 572h2v1h-2zM818 572h2v1h-2zM45 581h2v1h-2zM197 581h3v1h-3zM222 581h2v1h-2zM263 581h2v1h-2zM266 581h2v1h-2zM273 581h2v1h-2zM317 581h3v1h-3zM549 581h3v1h-3zM585 581h3v1h-3zM681 581h2v1h-2zM689 581h3v1h-3zM699 581h2v1h-2zM703 581h2v1h-2zM877 581h3v1h-3zM411 603h2v1h-2zM1181 603h2v1h-2zM301 584h3v1h-3zM308 584h4v1h-4zM326 584h2v1h-2zM909 584h3v1h-3zM925 584h3v1h-3zM931 584h2v1h-2zM936 584h2v1h-2zM969 584h3v1h-3zM976 584h4v1h-4zM984 584h2v1h-2zM139 592h2v1h-2zM143 592h2v1h-2zM146 592h2v1h-2zM1115 592h2v1h-2zM1157 592h5v1h-5zM1209 592h2v1h-2zM153 599h3v1h-3zM377 599h2v1h-2zM995 599h2v1h-2zM1199 599h2v1h-2zM47 582h3v1h-3zM181 582h3v1h-3zM285 582h2v1h-2zM315 582h2v1h-2zM320 582h4v1h-4zM552 582h2v1h-2zM588 582h2v1h-2zM692 582h7v1h-7zM875 582h2v1h-2zM880 582h2v1h-2zM920 582h3v1h-3zM950 582h2v1h-2zM965 582h2v1h-2zM1072 582h2v1h-2zM96 587h4v1h-4zM103 587h2v1h-2zM106 587h2v1h-2zM125 587h3v1h-3zM130 587h2v1h-2zM176 587h2v1h-2zM293 587h3v1h-3zM338 587h2v1h-2zM1083 587h2v1h-2zM1107 587h2v1h-2zM8 576h2v1h-2zM215 576h2v1h-2zM253 576h3v1h-3zM425 576h2v1h-2zM469 576h3v1h-3zM713 576h3v1h-3zM735 576h2v1h-2zM738 576h2v1h-2zM750 576h2v1h-2zM798 576h2v1h-2zM5 575h3v1h-3zM213 575h2v1h-2zM472 575h2v1h-2zM498 575h2v1h-2zM507 575h2v1h-2zM733 575h2v1h-2zM744 575h6v1h-6zM805 575h2v1h-2zM822 575h2v1h-2zM401 604h3v1h-3zM408 604h3v1h-3zM1183 604h2v1h-2zM1188 604h2v1h-2zM1234 604h2v1h-2zM28 569h4v1h-4zM36 569h2v1h-2zM480 569h2v1h-2zM533 569h2v1h-2zM597 569h5v1h-5zM837 569h3v1h-3zM844 569h6v1h-6zM89 585h3v1h-3zM290 585h2v1h-2zM299 585h2v1h-2zM332 585h4v1h-4zM419 585h2v1h-2zM933 585h3v1h-3zM972 585h4v1h-4zM980 585h4v1h-4zM1045 585h3v1h-3zM1061 585h9v1h-9zM1101 585h3v1h-3zM120 591h2v1h-2zM137 591h2v1h-2zM357 591h5v1h-5zM1113 591h2v1h-2zM141 593h2v1h-2zM345 593h3v1h-3zM354 593h2v1h-2zM562 593h2v1h-2zM1029 593h3v1h-3zM1221 593h3v1h-3zM444 573h2v1h-2zM501 573h3v1h-3zM641 573h2v1h-2zM672 573h3v1h-3zM730 573h2v1h-2zM809 573h2v1h-2zM76 590h2v1h-2zM117 590h3v1h-3zM135 590h2v1h-2zM362 590h2v1h-2zM572 590h6v1h-6zM885 590h3v1h-3zM891 590h2v1h-2zM944 590h2v1h-2zM1125 590h3v1h-3zM1131 590h2v1h-2zM1149 590h3v1h-3zM1154 590h2v1h-2zM1256 590h2v1h-2zM200 580h2v1h-2zM236 580h4v1h-4zM261 580h2v1h-2zM271 580h2v1h-2zM275 580h3v1h-3zM683 580h2v1h-2zM687 580h2v1h-2zM701 580h2v1h-2zM760 580h2v1h-2zM790 580h2v1h-2zM953 580h3v1h-3zM962 580h2v1h-2zM160 602h2v1h-2zM398 602h2v1h-2zM1179 602h2v1h-2zM992 598h3v1h-3zM1196 598h3v1h-3zM1246 598h2v1h-2zM156 600h2v1h-2zM379 600h2v1h-2zM997 600h3v1h-3zM1201 600h5v1h-5zM392 606h2v1h-2zM618 560h2v1h-2zM158 601h2v1h-2zM381 601h5v1h-5zM1000 601h2v1h-2zM1173 601h6v1h-6zM1242 601h2v1h-2zM628 563h2v1h-2zM621 562h7v1h-7zM852 562h2v1h-2zM389 605h3v1h-3zM404 605h4v1h-4zM1185 605h3v1h-3zM10 575h1v1h-1zM11 573h1v2h-1zM12 572h1v1h-1zM24 569h1v1h-1zM38 570h1v2h-1zM39 572h1v1h-1zM40 573h1v2h-1zM41 575h1v1h-1zM42 576h1v2h-1zM43 578h1v1h-1zM44 579h1v2h-1zM49 583h1v1h-1zM50 580h1v2h-1zM51 578h1v2h-1zM52 576h1v2h-1zM53 575h1v1h-1zM54 573h1v2h-1zM55 572h1v1h-1zM56 570h1v2h-1zM57 569h1v1h-1zM58 570h1v1h-1zM59 571h1v2h-1zM60 573h1v1h-1zM61 574h1v2h-1zM62 576h1v2h-1zM63 578h1v2h-1zM64 580h1v2h-1zM65 582h1v2h-1zM66 584h1v1h-1zM67 585h1v2h-1zM68 587h1v1h-1zM78 589h1v1h-1zM79 588h1v1h-1zM80 587h1v1h-1zM81 586h1v1h-1zM82 585h1v1h-1zM83 584h1v1h-1zM84 583h1v1h-1zM85 582h1v1h-1zM88 584h1v1h-1zM105 586h1v1h-1zM108 588h1v1h-1zM113 587h1v1h-1zM116 589h1v1h-1zM122 590h1v1h-1zM123 589h1v1h-1zM124 588h1v1h-1zM132 588h1v1h-1zM145 591h1v1h-1zM148 593h1v1h-1zM149 594h1v1h-1zM150 595h1v1h-1zM151 596h1v2h-1zM152 598h1v1h-1zM161 603h1v1h-1zM162 600h1v2h-1zM163 598h1v2h-1zM164 596h1v2h-1zM165 595h1v1h-1zM169 596h1v1h-1zM170 593h1v2h-1zM171 591h1v2h-1zM172 589h1v2h-1zM178 586h1v1h-1zM179 584h1v2h-1zM180 583h1v1h-1zM186 584h1v1h-1zM187 585h1v2h-1zM188 587h1v1h-1zM194 586h1v2h-1zM195 584h1v2h-1zM196 582h1v2h-1zM204 578h1v1h-1zM205 577h1v1h-1zM208 579h1v1h-1zM209 580h1v1h-1zM210 579h1v1h-1zM211 577h1v2h-1zM212 576h1v1h-1zM217 577h1v1h-1zM220 579h1v1h-1zM221 580h1v1h-1zM224 582h1v1h-1zM230 582h1v1h-1zM231 581h1v1h-1zM232 580h1v1h-1zM242 578h1v1h-1zM243 577h1v1h-1zM244 576h1v1h-1zM245 574h1v2h-1zM246 572h1v2h-1zM247 570h1v2h-1zM248 568h1v2h-1zM249 566h1v2h-1zM250 568h1v2h-1zM251 570h1v3h-1zM252 573h1v2h-1zM253 575h1v1h-1zM260 579h1v1h-1zM265 582h1v1h-1zM268 580h1v1h-1zM277 579h1v1h-1zM278 581h1v3h-1zM279 584h1v4h-1zM280 588h1v3h-1zM281 591h1v2h-1zM282 589h1v2h-1zM283 586h1v3h-1zM284 584h1v2h-1zM285 583h1v1h-1zM289 584h1v1h-1zM292 586h1v1h-1zM328 585h1v1h-1zM340 588h1v1h-1zM341 589h1v1h-1zM342 590h1v1h-1zM343 591h1v1h-1zM344 592h1v1h-1zM356 592h1v1h-1zM364 589h1v1h-1zM365 588h1v1h-1zM366 589h1v2h-1zM367 591h1v2h-1zM368 593h1v2h-1zM374 596h1v1h-1zM375 597h1v1h-1zM376 598h1v1h-1zM386 602h1v1h-1zM387 603h1v1h-1zM388 604h1v1h-1zM394 605h1v1h-1zM395 603h1v2h-1zM396 602h1v1h-1zM397 601h1v1h-1zM400 603h1v1h-1zM413 600h1v3h-1zM414 596h1v4h-1zM415 592h1v4h-1zM416 588h1v4h-1zM417 587h1v1h-1zM421 583h1v2h-1zM422 581h1v2h-1zM423 579h1v2h-1zM424 577h1v2h-1zM433 576h1v1h-1zM434 573h1v3h-1zM435 571h1v2h-1zM436 568h1v3h-1zM437 566h1v1h-1zM439 568h1v1h-1zM440 569h1v1h-1zM441 570h1v1h-1zM442 571h1v1h-1zM443 572h1v1h-1zM445 574h1v1h-1zM446 571h1v2h-1zM447 569h1v2h-1zM448 567h1v2h-1zM460 565h1v1h-1zM461 564h1v1h-1zM462 565h1v1h-1zM463 566h1v2h-1zM464 568h1v1h-1zM465 569h1v1h-1zM466 570h1v2h-1zM467 572h1v2h-1zM468 574h1v2h-1zM474 574h1v1h-1zM475 572h1v2h-1zM476 571h1v1h-1zM482 570h1v1h-1zM483 571h1v2h-1zM484 573h1v1h-1zM485 574h1v1h-1zM486 575h1v1h-1zM487 576h1v2h-1zM488 578h1v1h-1zM497 576h1v1h-1zM500 574h1v1h-1zM509 576h1v1h-1zM510 575h1v1h-1zM511 574h1v1h-1zM512 573h1v1h-1zM518 569h1v2h-1zM519 568h1v1h-1zM520 566h1v2h-1zM532 568h1v1h-1zM541 569h1v1h-1zM542 571h1v2h-1zM543 573h1v2h-1zM544 575h1v2h-1zM545 577h1v1h-1zM546 578h1v1h-1zM547 579h1v1h-1zM548 580h1v1h-1zM554 583h1v1h-1zM555 584h1v2h-1zM556 586h1v1h-1zM557 587h1v1h-1zM558 588h1v1h-1zM559 589h1v2h-1zM560 591h1v1h-1zM561 592h1v1h-1zM564 594h1v1h-1zM565 595h1v1h-1zM566 593h1v2h-1zM567 592h1v1h-1zM568 590h1v2h-1zM578 589h1v1h-1zM579 587h1v2h-1zM580 586h1v1h-1zM581 585h1v1h-1zM582 584h1v1h-1zM583 583h1v1h-1zM584 582h1v1h-1zM589 580h1v2h-1zM590 576h1v4h-1zM591 572h1v4h-1zM592 568h1v4h-1zM593 566h1v1h-1zM596 568h1v1h-1zM601 570h1v1h-1zM602 571h1v2h-1zM603 573h1v2h-1zM604 575h1v2h-1zM605 577h1v1h-1zM606 575h1v2h-1zM607 574h1v1h-1zM608 572h1v2h-1zM609 571h1v1h-1zM610 569h1v2h-1zM611 568h1v1h-1zM612 566h1v2h-1zM613 565h1v1h-1zM614 563h1v2h-1zM615 562h1v1h-1zM616 560h1v2h-1zM617 559h1v1h-1zM620 561h1v1h-1zM629 564h1v1h-1zM630 565h1v2h-1zM631 567h1v2h-1zM632 569h1v2h-1zM633 571h1v1h-1zM634 570h1v1h-1zM635 568h1v2h-1zM636 567h1v1h-1zM637 566h1v1h-1zM638 567h1v2h-1zM639 569h1v2h-1zM640 571h1v2h-1zM645 571h1v1h-1zM648 573h1v1h-1zM649 574h1v1h-1zM650 573h1v1h-1zM651 572h1v1h-1zM652 571h1v1h-1zM653 570h1v1h-1zM654 571h1v1h-1zM655 572h1v2h-1zM656 574h1v1h-1zM657 575h1v1h-1zM660 573h1v1h-1zM661 572h1v1h-1zM662 573h1v1h-1zM663 574h1v1h-1zM664 575h1v1h-1zM665 576h1v1h-1zM666 575h1v1h-1zM667 574h1v1h-1zM668 573h1v1h-1zM677 575h1v1h-1zM678 576h1v2h-1zM679 578h1v1h-1zM680 579h1v2h-1zM705 582h1v1h-1zM706 581h1v1h-1zM707 580h1v1h-1zM708 579h1v1h-1zM726 576h1v1h-1zM727 574h1v2h-1zM728 573h1v1h-1zM729 572h1v1h-1zM732 574h1v1h-1zM737 577h1v1h-1zM740 575h1v1h-1zM752 577h1v1h-1zM761 579h1v1h-1zM762 576h1v3h-1zM763 572h1v4h-1zM764 569h1v3h-1zM765 568h1v1h-1zM774 569h1v1h-1zM775 570h1v1h-1zM776 571h1v1h-1zM781 570h1v1h-1zM782 572h1v2h-1zM783 574h1v2h-1zM784 576h1v2h-1zM785 578h1v1h-1zM788 580h1v1h-1zM789 581h1v1h-1zM792 579h1v1h-1zM793 578h1v1h-1zM796 576h1v1h-1zM797 575h1v1h-1zM800 577h1v1h-1zM801 578h1v1h-1zM804 576h1v1h-1zM820 573h1v1h-1zM821 574h1v1h-1zM824 576h1v1h-1zM829 579h1v1h-1zM830 577h1v2h-1zM831 576h1v1h-1zM832 574h1v2h-1zM833 573h1v1h-1zM834 572h1v1h-1zM835 571h1v1h-1zM836 570h1v1h-1zM849 568h1v1h-1zM850 566h1v2h-1zM851 564h1v2h-1zM852 563h1v1h-1zM853 561h1v1h-1zM854 563h1v2h-1zM855 565h1v3h-1zM856 568h1v2h-1zM857 570h1v1h-1zM865 572h1v1h-1zM866 573h1v2h-1zM867 575h1v1h-1zM868 576h1v2h-1zM869 578h1v1h-1zM870 579h1v1h-1zM871 580h1v2h-1zM872 582h1v1h-1zM881 583h1v1h-1zM882 584h1v2h-1zM883 586h1v2h-1zM884 588h1v2h-1zM893 591h1v1h-1zM894 590h1v1h-1zM895 589h1v1h-1zM896 588h1v1h-1zM897 587h1v1h-1zM898 588h1v1h-1zM899 589h1v1h-1zM900 590h1v1h-1zM901 591h1v1h-1zM902 590h1v1h-1zM903 589h1v1h-1zM904 588h1v1h-1zM905 587h1v1h-1zM908 585h1v1h-1zM938 585h1v1h-1zM939 586h1v2h-1zM940 588h1v1h-1zM946 588h1v2h-1zM947 586h1v2h-1zM948 584h1v2h-1zM949 583h1v1h-1zM952 581h1v1h-1zM964 581h1v1h-1zM985 585h1v1h-1zM986 586h1v3h-1zM987 589h1v4h-1zM988 593h1v3h-1zM989 596h1v1h-1zM1002 599h1v2h-1zM1003 598h1v1h-1zM1004 596h1v2h-1zM1013 596h1v1h-1zM1014 595h1v1h-1zM1015 593h1v2h-1zM1016 592h1v1h-1zM1017 591h1v1h-1zM1018 592h1v1h-1zM1019 593h1v2h-1zM1020 595h1v1h-1zM1028 594h1v1h-1zM1041 597h1v1h-1zM1042 593h1v3h-1zM1043 590h1v3h-1zM1044 587h1v3h-1zM1045 586h1v1h-1zM1049 585h1v1h-1zM1050 583h1v2h-1zM1051 581h1v2h-1zM1052 579h1v2h-1zM1053 577h1v1h-1zM1056 579h1v1h-1zM1057 580h1v1h-1zM1058 581h1v1h-1zM1059 582h1v2h-1zM1060 584h1v1h-1zM1070 584h1v1h-1zM1071 583h1v1h-1zM1073 581h1v1h-1zM1074 583h1v2h-1zM1075 585h1v2h-1zM1076 587h1v2h-1zM1077 589h1v1h-1zM1080 587h1v1h-1zM1089 590h1v1h-1zM1090 591h1v2h-1zM1091 593h1v2h-1zM1092 595h1v2h-1zM1093 598h1v1h-1zM1094 596h1v1h-1zM1095 595h1v1h-1zM1096 593h1v2h-1zM1097 592h1v1h-1zM1098 590h1v2h-1zM1099 588h1v2h-1zM1100 586h1v2h-1zM1109 588h1v1h-1zM1112 590h1v1h-1zM1117 593h1v1h-1zM1118 592h1v1h-1zM1119 590h1v2h-1zM1120 589h1v1h-1zM1133 591h1v1h-1zM1134 592h1v1h-1zM1135 593h1v1h-1zM1136 594h1v1h-1zM1146 594h1v1h-1zM1147 592h1v2h-1zM1148 591h1v1h-1zM1156 591h1v1h-1zM1162 593h1v1h-1zM1163 594h1v2h-1zM1164 596h1v1h-1zM1170 598h1v1h-1zM1171 599h1v1h-1zM1172 600h1v1h-1zM1190 602h1v2h-1zM1191 600h1v2h-1zM1192 598h1v2h-1zM1205 599h1v1h-1zM1206 597h1v2h-1zM1207 595h1v2h-1zM1208 593h1v2h-1zM1209 591h1v1h-1zM1211 593h1v1h-1zM1212 594h1v1h-1zM1226 595h1v1h-1zM1227 596h1v2h-1zM1228 598h1v1h-1zM1229 599h1v1h-1zM1230 600h1v1h-1zM1231 601h1v1h-1zM1232 602h1v1h-1zM1233 603h1v1h-1zM1236 605h1v1h-1zM1237 606h1v1h-1zM1238 605h1v1h-1zM1239 604h1v1h-1zM1240 603h1v1h-1zM1241 602h1v1h-1zM1244 600h1v1h-1zM1245 599h1v1h-1zM1248 597h1v1h-1zM1249 595h1v2h-1zM1250 593h1v2h-1zM1251 591h1v2h-1zM1252 589h1v2h-1zM1253 587h1v1h-1zM1255 589h1v1h-1zM1257 591h1v1h-1zM1258 588h1v2h-1zM1259 586h1v2h-1zM1260 584h1v2h-1zM1261 582h1v2h-1zM1262 581h1v1h-1zM1263 580h1v1h-1zM1264 579h1v1h-1zM1265 578h1v1h-1zM1268 580h1v1h-1z" fill="#1e90ff"/>
<rect x="5" y="672" width="1" height="2" fill="#c0c0c0" />
<rect x="9" y="670" width="1" height="4" fill="#c0c0c0" />
<rect x="13" y="668" width="1" height="6" fill="#c0c0c0" />
<rect x="17" y="666" width="1" height="8" fill="#c0c0c0" />
<rect x="21" y="664" width="1" height="10" fill="#c0c0c0" />
<rect x="25" y="662" width="1" height="12" fill="#c0c0c0" />
<rect x="29" y="661" width="1" height="13" fill="#c0c0c0" />
<rect x="33" y="659" width="1" height="15" fill="#c0c0c0" />
<rect x="37" y="659" width="1" height="15" fill="#c0c0c0" />
<rect x="41" y="660" width="1" height="14" fill="#c0c0c0" />
<rect x="45" y="662" width="1" height="12" fill="#c0c0c0" />
<rect x="49" y="665" width="1" height="9" fill="#c0c0c0" />
<rect x="53" y="665" width="1" height="9" fill="#c0c0c0" />
<rect x="57" y="663" width="1" height="11" fill="#c0c0c0" />
<rect x="61" y="663" width="1" height="11" fill="#c0c0c0" />
<rect x="65" y="666" width="1" height="8" fill="#c0c0c0" />
<rect x="69" y="670" width="1" height="4" fill="#c0c0c0" />
<rect x="73" y="673" width="1" height="1" fill="#c0c0c0" />
<rect x="77" y="673" width="1" height="4" fill="#c0c0c0" />
<rect x="81" y="673" width="1" height="6" fill="#c0c0c0" />
<rect x="85" y="673" width="1" height="6" fill="#c0c0c0" />
<rect x="89" y="673" width="1" height="7" fill="#c0c0c0" />
<rect x="93" y="673" width="1" height="8" fill="#c0c0c0" />
<rect x="97" y="673" width="1" height="10" fill="#c0c0c0" />
<rect x="101" y="673" width="1" height="11" fill="#c0c0c0" />
<rect x="105" y="673" width="1" height="11" fill="#c0c0c0" />
<rect x="109" y="673" width="1" height="12" fill="#c0c0c0" />
<rect x="113" y="673" width="1" height="13" fill="#c0c0c0" />
<rect x="117" y="673" width="1" height="14" fill="#c0c0c0" />
<rect x="121" y="673" width="1" height="15" fill="#c0c0c0" />
<rect x="125" y="673" width="1" height="15" fill="#c0c0c0" />
<rect x="129" y="673" width="1" height="14" fill="#c0c0c0" />
<rect x="133" y="673" width="1" height="15" fill="#c0c0c0" />
<rect x="137" y="673" width="1" height="16" fill="#c0c0c0" />
<rect x="141" y="673" width="1" height="17" fill="#c0c0c0" />
<rect x="145" y="673" width="1" height="17" fill="#c0c0c0" />
<rect x="149" y="673" width="1" height="18" fill="#c0c0c0" />
<rect x="153" y="673" width="1" height="21" fill="#c0c0c0" />
<rect x="157" y="673" width="1" height="24" fill="#c0c0c0" />
<rect x="161" y="673" width="1" height="27" fill="#c0c0c0" />
<rect x="165" y="673" width="1" height="28" fill="#c0c0c0" />
<rect x="169" y="673" width="1" height="29" fill="#c0c0c0" />
<rect x="173" y="673" width="1" height="27" fill="#c0c0c0" />
<rect x="177" y="673" width="1" height="26" fill="#c0c0c0" />
<rect x="181" y="673" width="1" height="23" fill="#c0c0c0" />
<rect x="185" y="673" width="1" height="20" fill="#c0c0c0" />
<rect x="189" y="673" width="1" height="20" fill="#c0c0c0" />
<rect x="193" y="673" width="1" height="20" fill="#c0c0c0" />
<rect x="197" y="673" width="1" height="17" fill="#c0c0c0" />
<rect x="201" y="673" width="1" height="15" fill="#c0c0c0" />
<rect x="205" y="673" width="1" height="12" fill="#c0c0c0" />
<rect x="209" y="673" width="1" height="10" fill="#c0c0c0" />
<rect x="213" y="673" width="1" height="8" fill="#c0c0c0" />
<rect x="217" y="673" width="1" height="6" fill="#c0c0c0" />
<rect x="221" y="673" width="1" height="5" fill="#c0c0c0" />
<rect x="225" y="673" width="1" height="6" fill="#c0c0c0" />
<rect x="229" y="673" width="1" height="6" fill="#c0c0c0" />
<rect x="233" y="673" width="1" height="5" fill="#c0c0c0" />
<rect x="237" y="673" width="1" height="4" fill="#c0c0c0" />
<rect x="241" y="673" width="1" height="4" fill="#c0c0c0" />
<rect x="245" y="673" width="1" height="2" fill="#c0c0c0" />
<rect x="249" y="672" width="1" height="2" fill="#c0c0c0" />
<rect x="253" y="671" width="1" height="3" fill="#c0c0c0" />
<rect x="257" y="671" width="1" height="3" fill="#c0c0c0" />
<rect x="261" y="672" width="1" height="2" fill="#c0c0c0" />
<rect x="281" y="673" width="1" height="5" fill="#c0c0c0" />
<rect x="285" y="673" width="1" height="6" fill="#c0c0c0" />
<rect x="289" y="673" width="1" height="7" fill="#c0c0c0" />
<rect x="293" y="673" width="1" height="9" fill="#c0c0c0" />
<rect x="297" y="673" width="1" height="11" fill="#c0c0c0" />
<rect x="301" y="673" width="1" height="11" fill="#c0c0c0" />
<rect x="305" y="673" width="1" height="11" fill="#c0c0c0" />
<rect x="309" y="673" width="1" height="11" fill="#c0c0c0" />
<rect x="313" y="673" width="1" height="11" fill="#c0c0c0" />
<rect x="317" y="673" width="1" height="10" fill="#c0c0c0" />
<rect x="321" y="673" width="1" height="9" fill="#c0c0c0" />
<rect x="325" y="673" width="1" height="9" fill="#c0c0c0" />
<rect x="329" y="673" width="1" height="10" fill="#c0c0c0" />
<rect x="333" y="673" width="1" height="10" fill="#c0c0c0" />
<rect x="337" y="673" width="1" height="10" fill="#c0c0c0" />
<rect x="341" y="673" width="1" height="11" fill="#c0c0c0" />
<rect x="345" y="673" width="1" height="13" fill="#c0c0c0" />
<rect x="349" y="673" width="1" height="15" fill="#c0c0c0" />
<rect x="353" y="673" width="1" height="16" fill="#c0c0c0" />
<rect x="357" y="673" width="1" height="17" fill="#c0c0c0" />
<rect x="361" y="673" width="1" height="17" fill="#c0c0c0" />
<rect x="365" y="673" width="1" height="16" fill="#c0c0c0" />
<rect x="369" y="673" width="1" height="18" fill="#c0c0c0" />
<rect x="373" y="673" width="1" height="19" fill="#c0c0c0" />
<rect x="377" y="673" width="1" height="21" fill="#c0c0c0" />
<rect x="381" y="673" width="1" height="23" fill="#c0c0c0" />
<rect x="385" y="673" width="1" height="25" fill="#c0c0c0" />
<rect x="389" y="673" width="1" height="28" fill="#c0c0c0" />
<rect x="393" y="673" width="1" height="31" fill="#c0c0c0" />
<rect x="397" y="673" width="1" height="32" fill="#c0c0c0" />
<rect x="401" y="673" width="1" height="34" fill="#c0c0c0" />
<rect x="405" y="673" width="1" height="36" fill="#c0c0c0" />
<rect x="409" y="673" width="1" height="37" fill="#c0c0c0" />
<rect x="413" y="673" width="1" height="37" fill="#c0c0c0" />
<rect x="417" y="673" width="1" height="33" fill="#c0c0c0" />
<rect x="421" y="673" width="1" height="29" fill="#c0c0c0" />
<rect x="425" y="673" width="1" height="24" fill="#c0c0c0" />
<rect x="429" y="673" width="1" height="20" fill="#c0c0c0" />
<rect x="433" y="673" width="1" height="16" fill="#c0c0c0" />
<rect x="437" y="673" width="1" height="9" fill="#c0c0c0" />
<rect x="441" y="673" width="1" height="4" fill="#c0c0c0" />
<rect x="445" y="673" width="1" height="2" fill="#c0c0c0" />
<rect x="449" y="670" width="1" height="4" fill="#c0c0c0" />
<rect x="453" y="666" width="1" height="8" fill="#c0c0c0" />
<rect x="457" y="663" width="1" height="11" fill="#c0c0c0" />
<rect x="461" y="659" width="1" height="15" fill="#c0c0c0" />
<rect x="465" y="657" width="1" height="17" fill="#c0c0c0" />
<rect x="469" y="659" width="1" height="15" fill="#c0c0c0" />
<rect x="473" y="660" width="1" height="14" fill="#c0c0c0" />
<rect x="477" y="658" width="1" height="16" fill="#c0c0c0" />
<rect x="481" y="657" width="1" height="17" fill="#c0c0c0" />
<rect x="485" y="658" width="1" height="16" fill="#c0c0c0" />
<rect x="489" y="660" width="1" height="14" fill="#c0c0c0" />
<rect x="493" y="662" width="1" height="12" fill="#c0c0c0" />
<rect x="497" y="663" width="1" height="11" fill="#c0c0c0" />
<rect x="501" y="662" width="1" height="12" fill="#c0c0c0" />
<rect x="505" y="662" width="1" height="12" fill="#c0c0c0" />
<rect x="509" y="663" width="1" height="11" fill="#c0c0c0" />
<rect x="513" y="663" width="1" height="11" fill="#c0c0c0" />
<rect x="517" y="662" width="1" height="12" fill="#c0c0c0" />
<rect x="521" y="658" width="1" height="16" fill="#c0c0c0" />
<rect x="525" y="656" width="1" height="18" fill="#c0c0c0" />
<rect x="529" y="655" width="1" height="19" fill="#c0c0c0" />
<rect x="533" y="654" width="1" height="20" fill="#c0c0c0" />
<rect x="537" y="655" width="1" height="19" fill="#c0c0c0" />
<rect x="541" y="655" width="1" height="19" fill="#c0c0c0" />
<rect x="545" y="657" width="1" height="17" fill="#c0c0c0" />
<rect x="549" y="661" width="1" height="13" fill="#c0c0c0" />
<rect x="553" y="664" width="1" height="10" fill="#c0c0c0" />
<rect x="557" y="669" width="1" height="5" fill="#c0c0c0" />
<rect x="565" y="673" width="1" height="6" fill="#c0c0c0" />
<rect x="569" y="673" width="1" height="9" fill="#c0c0c0" />
<rect x="573" y="673" width="1" height="12" fill="#c0c0c0" />
<rect x="577" y="673" width="1" height="14" fill="#c0c0c0" />
<rect x="581" y="673" width="1" height="14" fill="#c0c0c0" />
<rect x="585" y="673" width="1" height="13" fill="#c0c0c0" />
<rect x="589" y="673" width="1" height="12" fill="#c0c0c0" />
<rect x="593" y="673" width="1" height="4" fill="#c0c0c0" />
<rect x="597" y="673" width="1" height="1" fill="#c0c0c0" />
<rect x="601" y="669" width="1" height="5" fill="#c0c0c0" />
<rect x="605" y="669" width="1" height="5" fill="#c0c0c0" />
<rect x="609" y="666" width="1" height="8" fill="#c0c0c0" />
<rect x="613" y="659" width="1" height="15" fill="#c0c0c0" />
<rect x="617" y="648" width="1" height="26" fill="#c0c0c0" />
<rect x="621" y="641" width="1" height="33" fill="#c0c0c0" />
<rect x="625" y="636" width="1" height="38" fill="#c0c0c0" />
<rect x="629" y="633" width="1" height="41" fill="#c0c0c0" />
<rect x="633" y="635" width="1" height="39" fill="#c0c0c0" />
<rect x="637" y="633" width="1" height="41" fill="#c0c0c0" />
<rect x="641" y="635" width="1" height="39" fill="#c0c0c0" />
<rect x="645" y="636" width="1" height="38" fill="#c0c0c0" />
<rect x="649" y="639" width="1" height="35" fill="#c0c0c0" />
<rect x="653" y="638" width="1" height="36" fill="#c0c0c0" />
<rect x="657" y="641" width="1" height="33" fill="#c0c0c0" />
<rect x="661" y="642" width="1" height="32" fill="#c0c0c0" />
<rect x="665" y="645" width="1" height="29" fill="#c0c0c0" />
<rect x="669" y="645" width="1" height="29" fill="#c0c0c0" />
<rect x="673" y="646" width="1" height="28" fill="#c0c0c0" />
<rect x="677" y="648" width="1" height="26" fill="#c0c0c0" />
<rect x="681" y="653" width="1" height="21" fill="#c0c0c0" />
<rect x="685" y="657" width="1" height="17" fill="#c0c0c0" />
<rect x="689" y="661" width="1" height="13" fill="#c0c0c0" />
<rect x="693" y="665" width="1" height="9" fill="#c0c0c0" />
<rect x="697" y="669" width="1" height="5" fill="#c0c0c0" />
<rect x="701" y="671" width="1" height="3" fill="#c0c0c0" />
<rect x="705" y="673" width="1" height="1" fill="#c0c0c0" />
<rect x="709" y="672" width="1" height="2" fill="#c0c0c0" />
<rect x="713" y="671" width="1" height="3" fill="#c0c0c0" />
<rect x="717" y="671" width="1" height="3" fill="#c0c0c0" />
<rect x="721" y="670" width="1" height="4" fill="#c0c0c0" />
<rect x="725" y="670" width="1" height="4" fill="#c0c0c0" />
<rect x="729" y="668" width="1" height="6" fill="#c0c0c0" />
<rect x="733" y="667" width="1" height="7" fill="#c0c0c0" />
<rect x="737" y="667" width="1" height="7" fill="#c0c0c0" />
<rect x="741" y="667" width="1" height="7" fill="#c0c0c0" />
<rect x="745" y="666" width="1" height="8" fill="#c0c0c0" />
<rect x="749" y="666" width="1" height="8" fill="#c0c0c0" />
<rect x="753" y="667" width="1" height="7" fill="#c0c0c0" />
<rect x="757" y="668" width="1" height="6" fill="#c0c0c0" />
<rect x="761" y="670" width="1" height="4" fill="#c0c0c0" />
<rect x="765" y="665" width="1" height="9" fill="#c0c0c0" />
<rect x="769" y="662" width="1" height="12" fill="#c0c0c0" />
<rect x="773" y="660" width="1" height="14" fill="#c0c0c0" />
<rect x="777" y="659" width="1" height="15" fill="#c0c0c0" />
<rect x="781" y="658" width="1" height="16" fill="#c0c0c0" />
<rect x="785" y="661" width="1" height="13" fill="#c0c0c0" />
<rect x="789" y="663" width="1" height="11" fill="#c0c0c0" />
<rect x="793" y="665" width="1" height="9" fill="#c0c0c0" />
<rect x="797" y="665" width="1" height="9" fill="#c0c0c0" />
<rect x="801" y="666" width="1" height="8" fill="#c0c0c0" />
<rect x="805" y="666" width="1" height="8" fill="#c0c0c0" />
<rect x="809" y="666" width="1" height="8" fill="#c0c0c0" />
<rect x="813" y="664" width="1" height="10" fill="#c0c0c0" />
<rect x="817" y="663" width="1" height="11" fill="#c0c0c0" />
<rect x="821" y="663" width="1" height="11" fill="#c0c0c0" />
<rect x="825" y="664" width="1" height="10" fill="#c0c0c0" />
<rect x="829" y="666" width="1" height="8" fill="#c0c0c0" />
<rect x="833" y="665" width="1" height="9" fill="#c0c0c0" />
<rect x="837" y="663" width="1" height="11" fill="#c0c0c0" />
<rect x="841" y="662" width="1" height="12" fill="#c0c0c0" />
<rect x="845" y="660" width="1" height="14" fill="#c0c0c0" />
<rect x="849" y="660" width="1" height="14" fill="#c0c0c0" />
<rect x="853" y="656" width="1" height="18" fill="#c0c0c0" />
<rect x="857" y="656" width="1" height="18" fill="#c0c0c0" />
<rect x="861" y="655" width="1" height="19" fill="#c0c0c0" />
<rect x="865" y="656" width="1" height="18" fill="#c0c0c0" />
<rect x="869" y="658" width="1" height="16" fill="#c0c0c0" />
<rect x="873" y="662" width="1" height="12" fill="#c0c0c0" />
<rect x="877" y="665" width="1" height="9" fill="#c0c0c0" />
<rect x="881" y="668" width="1" height="6" fill="#c0c0c0" />
<rect x="889" y="673" width="1" height="4" fill="#c0c0c0" />
<rect x="893" y="673" width="1" height="8" fill="#c0c0c0" />
<rect x="897" y="673" width="1" height="10" fill="#c0c0c0" />
<rect x="901" y="673" width="1" height="14" fill="#c0c0c0" />
<rect x="905" y="673" width="1" height="15" fill="#c0c0c0" />
<rect x="909" y="673" width="1" height="15" fill="#c0c0c0" />
<rect x="913" y="673" width="1" height="14" fill="#c0c0c0" />
<rect x="917" y="673" width="1" height="14" fill="#c0c0c0" />
<rect x="921" y="673" width="1" height="13" fill="#c0c0c0" />
<rect x="925" y="673" width="1" height="12" fill="#c0c0c0" />
<rect x="929" y="673" width="1" height="12" fill="#c0c0c0" />
<rect x="933" y="673" width="1" height="12" fill="#c0c0c0" />
<rect x="937" y="673" width="1" height="12" fill="#c0c0c0" />
<rect x="941" y="673" width="1" height="13" fill="#c0c0c0" />
<rect x="945" y="673" width="1" height="14" fill="#c0c0c0" />
<rect x="949" y="673" width="1" height="13" fill="#c0c0c0" />
<rect x="953" y="673" width="1" height="12" fill="#c0c0c0" />
<rect x="957" y="673" width="1" height="10" fill="#c0c0c0" />
<rect x="961" y="673" width="1" height="8" fill="#c0c0c0" />
<rect x="965" y="673" width="1" height="8" fill="#c0c0c0" />
<rect x="969" y="673" width="1" height="8" fill="#c0c0c0" />
<rect x="973" y="673" width="1" height="8" fill="#c0c0c0" />
<rect x="977" y="673" width="1" height="8" fill="#c0c0c0" />
<rect x="981" y="673" width="1" height="8" fill="#c0c0c0" />
<rect x="985" y="673" width="1" height="8" fill="#c0c0c0" />
<rect x="989" y="673" width="1" height="12" fill="#c0c0c0" />
<rect x="993" y="673" width="1" height="16" fill="#c0c0c0" />
<rect x="997" y="673" width="1" height="19" fill="#c0c0c0" />
<rect x="1001" y="673" width="1" height="22" fill="#c0c0c0" />
<rect x="1005" y="673" width="1" height="23" fill="#c0c0c0" />
<rect x="1009" y="673" width="1" height="24" fill="#c0c0c0" />
<rect x="1013" y="673" width="1" height="25" fill="#c0c0c0" />
<rect x="1017" y="673" width="1" height="24" fill="#c0c0c0" />
<rect x="1021" y="673" width="1" height="26" fill="#c0c0c0" />
<rect x="1025" y="673" width="1" height="26" fill="#c0c0c0" />
<rect x="1029" y="673" width="1" height="26" fill="#c0c0c0" />
<rect x="1033" y="673" width="1" height="26" fill="#c0c0c0" />
<rect x="1037" y="673" width="1" height="26" fill="#c0c0c0" />
<rect x="1041" y="673" width="1" height="26" fill="#c0c0c0" />
<rect x="1045" y="673" width="1" height="24" fill="#c0c0c0" />
<rect x="1049" y="673" width="1" height="22" fill="#c0c0c0" />
<rect x="1053" y="673" width="1" height="18" fill="#c0c0c0" />
<rect x="1057" y="673" width="1" height="16" fill="#c0c0c0" />
<rect x="1061" y="673" width="1" height="15" fill="#c0c0c0" />
<rect x="1065" y="673" width="1" height="14" fill="#c0c0c0" />
<rect x="1069" y="673" width="1" height="14" fill="#c0c0c0" />
<rect x="1073" y="673" width="1" height="12" fill="#c0c0c0" />
<rect x="1077" y="673" width="1" height="13" fill="#c0c0c0" />
<rect x="1081" y="673" width="1" height="13" fill="#c0c0c0" />
<rect x="1085" y="673" width="1" height="14" fill="#c0c0c0" />
<rect x="1089" y="673" width="1" height="14" fill="#c0c0c0" />
<rect x="1093" y="673" width="1" height="19" fill="#c0c0c0" />
<rect x="1097" y="673" width="1" height="20" fill="#c0c0c0" />
<rect x="1101" y="673" width="1" height="19" fill="#c0c0c0" />
<rect x="1105" y="673" width="1" height="19" fill="#c0c0c0" />
<rect x="1109" y="673" width="1" height="19" fill="#c0c0c0" />
<rect x="1113" y="673" width="1" height="20" fill="#c0c0c0" />
<rect x="1117" y="673" width="1" height="22" fill="#c0c0c0" />
<rect x="1121" y="673" width="1" height="21" fill="#c0c0c0" />
<rect x="1125" y="673" width="1" height="22" fill="#c0c0c0" />
<rect x="1129" y="673" width="1" height="21" fill="#c0c0c0" />
<rect x="1133" y="673" width="1" height="22" fill="#c0c0c0" />
<rect x="1137" y="673" width="1" height="24" fill="#c0c0c0" />
<rect x="1141" y="673" width="1" height="25" fill="#c0c0c0" />
<rect x="1145" y="673" width="1" height="26" fill="#c0c0c0" />
<rect x="1149" y="673" width="1" height="25" fill="#c0c0c0" />
<rect x="1153" y="673" width="1" height="24" fill="#c0c0c0" />
<rect x="1157" y="673" width="1" height="24" fill="#c0c0c0" />
<rect x="1161" y="673" width="1" height="24" fill="#c0c0c0" />
<rect x="1165" y="673" width="1" height="26" fill="#c0c0c0" />
<rect x="1169" y="673" width="1" height="27" fill="#c0c0c0" />
<rect x="1173" y="673" width="1" height="29" fill="#c0c0c0" />
<rect x="1177" y="673" width="1" height="31" fill="#c0c0c0" />
<rect x="1181" y="673" width="1" height="33" fill="#c0c0c0" />
<rect x="1185" y="673" width="1" height="36" fill="#c0c0c0" />
<rect x="1189" y="673" width="1" height="37" fill="#c0c0c0" />
<rect x="1193" y="673" width="1" height="36" fill="#c0c0c0" />
<rect x="1197" y="673" width="1" height="36" fill="#c0c0c0" />
<rect x="1201" y="673" width="1" height="36" fill="#c0c0c0" />
<rect x="1205" y="673" width="1" height="36" fill="#c0c0c0" />
<rect x="1209" y="673" width="1" height="34" fill="#c0c0c0" />
<rect x="1213" y="673" width="1" height="33" fill="#c0c0c0" />
<rect x="1217" y="673" width="1" height="32" fill="#c0c0c0" />
<rect x="1221" y="673" width="1" height="31" fill="#c0c0c0" />
<rect x="1225" y="673" width="1" height="30" fill="#c0c0c0" />
<rect x="1229" y="673" width="1" height="31" fill="#c0c0c0" />
<rect x="1233" y="673" width="1" height="34" fill="#c0c0c0" />
<rect x="1237" y="673" width="1" height="38" fill="#c0c0c0" />
<rect x="1241" y="673" width="1" height="40" fill="#c0c0c0" />
<rect x="1245" y="673" width="1" height="40" fill="#c0c0c0" />
<rect x="1249" y="673" width="1" height="40" fill="#c0c0c0" />
<rect x="1253" y="673" width="1" height="36" fill="#c0c0c0" />
<rect x="1257" y="673" width="1" height="35" fill="#c0c0c0" />
<rect x="1261" y="673" width="1" height="31" fill="#c0c0c0" />
<rect x="1265" y="673" width="1" height="26" fill="#c0c0c0" />
<rect x="1269" y="673" width="1" height="22" fill="#c0c0c0" />
<path d="M173 696h3v1h-3zM197 696h3v1h-3zM395 696h2v1h-2zM1025 696h2v1h-2zM1144 696h3v1h-3zM1150 696h3v1h-3zM413 705h3v1h-3zM5 672h3v1h-3zM89 672h2v1h-2zM275 672h3v1h-3zM281 672h3v1h-3zM209 691h2v1h-2zM1013 691h2v1h-2zM1072 691h3v1h-3zM1030 697h2v1h-2zM1054 697h2v1h-2zM1156 697h3v1h-3zM1162 697h2v1h-2zM125 685h3v1h-3zM221 685h3v1h-3zM922 685h2v1h-2zM952 685h3v1h-3zM958 685h3v1h-3zM1000 685h3v1h-3zM1240 707h3v1h-3zM1252 709h3v1h-3zM1258 709h3v1h-3zM1264 709h3v1h-3zM156 690h2v1h-2zM377 690h3v1h-3zM1108 690h3v1h-3zM1114 690h2v1h-2zM419 706h3v1h-3zM425 706h2v1h-2zM1198 706h2v1h-2zM1228 706h3v1h-3zM1234 706h3v1h-3zM252 676h2v1h-2zM293 676h3v1h-3zM610 676h2v1h-2zM71 663h2v1h-2zM778 663h3v1h-3zM820 663h3v1h-3zM826 663h3v1h-3zM832 663h3v1h-3zM838 663h2v1h-2zM180 698h2v1h-2zM185 698h3v1h-3zM191 698h3v1h-3zM1036 698h3v1h-3zM1048 698h3v1h-3zM1168 698h3v1h-3zM83 669h2v1h-2zM724 669h3v1h-3zM730 669h3v1h-3zM736 669h3v1h-3zM676 640h3v1h-3zM137 687h3v1h-3zM365 687h3v1h-3zM1084 687h3v1h-3zM1090 687h3v1h-3zM167 694h2v1h-2zM203 694h2v1h-2zM389 694h3v1h-3zM1132 694h3v1h-3zM1138 694h2v1h-2zM484 658h2v1h-2zM496 658h2v1h-2zM501 658h3v1h-3zM532 658h2v1h-2zM880 658h3v1h-3zM719 667h2v1h-2zM748 667h3v1h-3zM65 661h3v1h-3zM478 661h2v1h-2zM790 661h3v1h-3zM796 661h3v1h-3zM802 661h3v1h-3zM850 661h3v1h-3zM887 661h2v1h-2zM227 683h2v1h-2zM317 683h3v1h-3zM323 683h3v1h-3zM329 683h3v1h-3zM335 683h3v1h-3zM341 683h3v1h-3zM917 683h2v1h-2zM976 683h3v1h-3zM995 683h2v1h-2zM401 699h2v1h-2zM1042 699h3v1h-3zM1174 699h3v1h-3zM131 686h3v1h-3zM360 686h2v1h-2zM928 686h3v1h-3zM934 686h3v1h-3zM940 686h3v1h-3zM946 686h3v1h-3zM694 651h2v1h-2zM507 659h3v1h-3zM862 659h2v1h-2zM144 688h2v1h-2zM215 688h2v1h-2zM1007 688h2v1h-2zM1096 688h3v1h-3zM1102 688h2v1h-2zM113 682h3v1h-3zM312 682h2v1h-2zM592 682h2v1h-2zM597 682h3v1h-3zM982 682h3v1h-3zM988 682h3v1h-3zM29 666h3v1h-3zM77 666h2v1h-2zM754 666h3v1h-3zM760 666h3v1h-3zM766 666h2v1h-2zM120 684h2v1h-2zM348 684h2v1h-2zM353 684h3v1h-3zM964 684h3v1h-3zM970 684h2v1h-2zM664 636h3v1h-3zM1019 693h2v1h-2zM1067 693h2v1h-2zM1126 693h3v1h-3zM549 655h3v1h-3zM48 660h2v1h-2zM53 660h3v1h-3zM59 660h3v1h-3zM513 660h3v1h-3zM519 660h3v1h-3zM525 660h3v1h-3zM562 660h2v1h-2zM706 660h2v1h-2zM856 660h3v1h-3zM24 668h2v1h-2zM742 668h2v1h-2zM1060 695h3v1h-3zM41 662h3v1h-3zM784 662h3v1h-3zM808 662h3v1h-3zM814 662h2v1h-2zM844 662h3v1h-3zM240 679h2v1h-2zM585 679h2v1h-2zM910 679h2v1h-2zM35 664h2v1h-2zM713 664h2v1h-2zM772 664h3v1h-3zM1204 708h3v1h-3zM1210 708h3v1h-3zM1216 708h3v1h-3zM1222 708h2v1h-2zM1246 708h2v1h-2zM305 680h3v1h-3zM603 680h2v1h-2zM149 689h3v1h-3zM372 689h2v1h-2zM1078 689h2v1h-2zM543 656h3v1h-3zM1180 700h3v1h-3zM653 634h2v1h-2zM658 634h2v1h-2zM489 657h3v1h-3zM537 657h3v1h-3zM556 657h2v1h-2zM868 657h3v1h-3zM874 657h3v1h-3zM101 678h2v1h-2zM245 678h3v1h-3zM300 678h2v1h-2zM95 675h2v1h-2zM257 675h3v1h-3zM264 673h2v1h-2zM269 673h3v1h-3zM407 702h2v1h-2zM1187 702h2v1h-2zM288 674h2v1h-2zM17 670h3v1h-3zM574 670h2v1h-2zM108 681h2v1h-2zM233 681h3v1h-3zM683 643h2v1h-2zM161 692h3v1h-3zM384 692h2v1h-2zM1120 692h3v1h-3zM1192 704h3v1h-3zM471 665h2v1h-2zM12 671h2v1h-2zM432 703h2v1h-2zM647 637h2v1h-2zM670 638h2v1h-2zM11 672h1v1h-1zM23 669h1v1h-1zM37 663h1v1h-1zM47 661h1v1h-1zM73 664h1v1h-1zM79 667h1v1h-1zM85 670h1v1h-1zM91 673h1v1h-1zM97 676h1v1h-1zM103 679h1v1h-1zM107 680h1v1h-1zM119 683h1v1h-1zM143 687h1v1h-1zM155 689h1v1h-1zM169 695h1v1h-1zM179 697h1v1h-1zM205 693h1v1h-1zM211 690h1v1h-1zM217 687h1v1h-1zM229 682h1v1h-1zM239 680h1v1h-1zM251 677h1v1h-1zM263 674h1v1h-1zM287 673h1v1h-1zM299 677h1v1h-1zM311 681h1v1h-1zM347 683h1v1h-1zM359 685h1v1h-1zM371 688h1v1h-1zM383 691h1v1h-1zM397 697h1v1h-1zM403 700h1v1h-1zM409 703h1v1h-1zM427 705h1v1h-1zM431 704h1v1h-1zM437 700h1v1h-1zM438 699h1v1h-1zM439 698h1v1h-1zM443 694h1v1h-1zM444 693h1v1h-1zM445 692h1v1h-1zM449 688h1v1h-1zM450 687h1v1h-1zM451 686h1v1h-1zM454 682h1v1h-1zM455 681h1v1h-1zM456 680h1v1h-1zM459 676h1v1h-1zM460 675h1v1h-1zM461 674h1v1h-1zM465 670h1v1h-1zM466 669h1v1h-1zM467 668h1v1h-1zM473 664h1v1h-1zM477 662h1v1h-1zM483 659h1v1h-1zM495 657h1v1h-1zM531 659h1v1h-1zM555 656h1v1h-1zM561 659h1v1h-1zM567 663h1v1h-1zM568 664h1v1h-1zM569 665h1v1h-1zM573 669h1v1h-1zM579 674h1v1h-1zM580 675h1v1h-1zM581 676h1v1h-1zM587 680h1v1h-1zM591 681h1v1h-1zM605 679h1v1h-1zM609 677h1v1h-1zM615 671h1v2h-1zM616 670h1v1h-1zM619 666h1v1h-1zM620 665h1v1h-1zM621 664h1v1h-1zM624 660h1v1h-1zM625 659h1v1h-1zM626 658h1v1h-1zM628 654h1v1h-1zM629 653h1v1h-1zM630 652h1v1h-1zM634 648h1v1h-1zM635 647h1v1h-1zM636 646h1v1h-1zM640 642h1v1h-1zM641 641h1v1h-1zM642 640h1v1h-1zM646 638h1v1h-1zM652 635h1v1h-1zM660 635h1v1h-1zM672 639h1v1h-1zM682 642h1v1h-1zM688 646h1v1h-1zM689 647h1v1h-1zM690 648h1v1h-1zM696 652h1v1h-1zM700 655h1v1h-1zM701 656h1v1h-1zM702 657h1v1h-1zM708 661h1v1h-1zM712 663h1v1h-1zM718 666h1v1h-1zM744 667h1v1h-1zM768 665h1v1h-1zM816 663h1v1h-1zM840 662h1v1h-1zM864 658h1v1h-1zM886 660h1v1h-1zM892 664h1v1h-1zM893 665h1v1h-1zM894 666h1v1h-1zM898 669h1v1h-1zM899 670h1v1h-1zM900 671h1v1h-1zM904 674h1v1h-1zM905 675h1v1h-1zM906 676h1v1h-1zM912 680h1v1h-1zM916 682h1v1h-1zM924 686h1v1h-1zM972 683h1v1h-1zM994 682h1v1h-1zM1006 687h1v1h-1zM1012 690h1v1h-1zM1018 692h1v1h-1zM1024 695h1v1h-1zM1032 698h1v1h-1zM1056 696h1v1h-1zM1066 694h1v1h-1zM1080 688h1v1h-1zM1104 689h1v1h-1zM1116 691h1v1h-1zM1140 695h1v1h-1zM1164 698h1v1h-1zM1186 701h1v1h-1zM1200 707h1v1h-1zM1224 707h1v1h-1zM1248 709h1v1h-1z" fill="#ff0000"/>
<rect x="4" y="25" width="1594" height="1" fill="#000" />
<rect x="4" y="530" width="1594" height="1" fill="#000" />
<rect x="4" y="532" width="1594" height="1" fill="#000" />
<rect x="4" y="624" width="1594" height="1" fill="#000" />
<rect x="4" y="626" width="1594" height="1" fill="#000" />
<rect x="4" y="718" width="1594" height="1" fill="#000" />
<rect x="4" y="25" width="1" height="506" fill="#000" />
<rect x="4" y="532" width="1" height="93" fill="#000" />
<rect x="4" y="626" width="1" height="93" fill="#000" />
<rect x="1597" y="25" width="1" height="506" fill="#000" />
<rect x="1597" y="532" width="1" height="93" fill="#000" />
<rect x="1597" y="626" width="1" height="93" fill="#000" />
<rect x="1598" y="32" width="2" height="1" fill="#000" />
<text x="1603" y="36" font-size="10" fill="#000" textLength="33.00" lengthAdjust="spacingAndGlyphs" >7.21240</text>
<rect x="1598" y="65" width="2" height="1" fill="#000" />
<text x="1603" y="69" font-size="10" fill="#000" textLength="33.00" lengthAdjust="spacingAndGlyphs" >7.18105</text>
<rect x="1598" y="98" width="2" height="1" fill="#000" />
<text x="1603" y="102" font-size="10" fill="#000" textLength="33.00" lengthAdjust="spacingAndGlyphs" >7.14875</text>
<rect x="1598" y="131" width="2" height="1" fill="#000" />
<text x="1603" y="135" font-size="10" fill="#000" textLength="33.00" lengthAdjust="spacingAndGlyphs" >7.11645</text>
<rect x="1598" y="164" width="2" height="1" fill="#000" />
<text x="1603" y="168" font-size="10" fill="#000" textLength="33.00" lengthAdjust="spacingAndGlyphs" >7.08510</text>
<rect x="1598" y="197" width="2" height="1" fill="#000" />
<text x="1603" y="201" font-size="10" fill="#000" textLength="33.00" lengthAdjust="spacingAndGlyphs" >7.05280</text>
<rect x="1598" y="230" width="2" height="1" fill="#000" />
<text x="1603" y="234" font-size="10" fill="#000" textLength="33.00" lengthAdjust="spacingAndGlyphs" >7.02050</text>
<rect x="1598" y="263" width="2" height="1" fill="#000" />
<text x="1603" y="267" font-size="10" fill="#000" textLength="33.00" lengthAdjust="spacingAndGlyphs" >6.98820</text>
<rect x="1598" y="296" width="2" height="1" fill="#000" />
<text x="1603" y="300" font-size="10" fill="#000" textLength="33.00" lengthAdjust="spacingAndGlyphs" >6.95685</text>
<rect x="1598" y="329" width="2" height="1" fill="#000" />
<text x="1603" y="333" font-size="10" fill="#000" textLength="33.00" lengthAdjust="spacingAndGlyphs" >6.92455</text>
<rect x="1598" y="362" width="2" height="1" fill="#000" />
<text x="1603" y="366" font-size="10" fill="#000" textLength="33.00" lengthAdjust="spacingAndGlyphs" >6.89225</text>
<rect x="1598" y="395" width="2" height="1" fill="#000" />
<text x="1603" y="399" font-size="10" fill="#000" textLength="33.00" lengthAdjust="spacingAndGlyphs" >6.85995</text>
<rect x="1598" y="428" width="2" height="1" fill="#000" />
<text x="1603" y="432" font-size="10" fill="#000" textLength="33.00" lengthAdjust="spacingAndGlyphs" >6.82860</text>
<rect x="1598" y="461" width="2" height="1" fill="#000" />
<text x="1603" y="465" font-size="10" fill="#000" textLength="33.00" lengthAdjust="spacingAndGlyphs" >6.79630</text>
<rect x="1598" y="494" width="2" height="1" fill="#000" />
<rect x="1598" y="527" width="2" height="1" fill="#000" />
<text x="1603" y="531" font-size="10" fill="#000" textLength="33.00" lengthAdjust="spacingAndGlyphs" >6.73265</text>
<rect x="4" y="248" width="6" height="6" fill="#ff0000" /><rect x="6" y="250" width="2" height="2" fill="#fff" />
<rect x="1591" y="248" width="6" height="6" fill="#ff0000" /><rect x="1593" y="250" width="2" height="2" fill="#fff" />
<rect x="4" y="369" width="6" height="6" fill="#00ff00" /><rect x="6" y="371" width="2" height="2" fill="#fff" />
<rect x="1591" y="369" width="6" height="6" fill="#00ff00" /><rect x="1593" y="371" width="2" height="2" fill="#fff" />
<rect x="1599" y="37" width="41" height="11" fill="#ff0000" />
<rect x="1597" y="42" width="1" height="2" fill="#ff0000" />
<text x="1603" y="46" font-size="10" fill="#fff" textLength="33.00" lengthAdjust="spacingAndGlyphs" >7.20193</text>
<rect x="1599" y="142" width="41" height="11" fill="#ff0000" />
<rect x="1597" y="147" width="1" height="2" fill="#ff0000" />
<text x="1603" y="151" font-size="10" fill="#fff" textLength="33.00" lengthAdjust="spacingAndGlyphs" >7.10011</text>
<rect x="1599" y="245" width="41" height="11" fill="#ff0000" />
<text x="1603" y="254" font-size="10" fill="#fff" textLength="33.00" lengthAdjust="spacingAndGlyphs" >7.00029</text>
<rect x="1599" y="366" width="41" height="11" fill="#00ff00" />
<text x="1603" y="375" font-size="10" fill="#fff" textLength="33.00" lengthAdjust="spacingAndGlyphs" >6.88250</text>
<rect x="1599" y="431" width="41" height="11" fill="#000000" />
<text x="1603" y="440" font-size="10" fill="#fff" textLength="33.00" lengthAdjust="spacingAndGlyphs" >6.82090</text>
<rect x="1599" y="491" width="41" height="11" fill="#0000ff" />
<rect x="1597" y="496" width="1" height="2" fill="#0000ff" />
<text x="1603" y="500" font-size="10" fill="#fff" textLength="33.00" lengthAdjust="spacingAndGlyphs" >6.76171</text>
<rect x="1598" y="533" width="1" height="1" fill="#000" />
<rect x="1598" y="623" width="1" height="1" fill="#000" />
<text x="1601.5" y="543" font-size="10" fill="#000" textLength="14.20" lengthAdjust="spacingAndGlyphs" >100</text>
<text x="1601.5" y="564" font-size="10" fill="#000" textLength="9.00" lengthAdjust="spacingAndGlyphs" >70</text>
<text x="1601.5" y="600" font-size="10" fill="#000" textLength="9.00" lengthAdjust="spacingAndGlyphs" >30</text>
<text x="1601.5" y="621" font-size="10" fill="#000" textLength="4.50" lengthAdjust="spacingAndGlyphs" >0</text>
<rect x="1598" y="628" width="1" height="1" fill="#000" />
<rect x="1598" y="673" width="1" height="1" fill="#000" />
<rect x="1598" y="717" width="1" height="1" fill="#000" />
<text x="1600.6" y="637" font-size="10" fill="#000" textLength="38.60" lengthAdjust="spacingAndGlyphs" >0.042275</text>
<text x="1601.5" y="677" font-size="10" fill="#000" textLength="18.50" lengthAdjust="spacingAndGlyphs" >0.00</text>
<text x="1600.8" y="715" font-size="10" fill="#000" textLength="36.60" lengthAdjust="spacingAndGlyphs" >-0.04148</text>
<rect x="5" y="719" width="1" height="3" fill="#000" />
<text x="3.85" y="731" font-size="10" fill="#000" textLength="52.80" lengthAdjust="spacingAndGlyphs" >23 Sep 2019</text>
<rect x="69" y="719" width="1" height="3" fill="#000" />
<text x="68.35" y="731" font-size="10" fill="#000" textLength="50.80" lengthAdjust="spacingAndGlyphs" >11 Oct 2019</text>
<rect x="133" y="719" width="1" height="3" fill="#000" />
<text x="132.1" y="731" font-size="10" fill="#000" textLength="51.30" lengthAdjust="spacingAndGlyphs" >30 Oct 2019</text>
<rect x="197" y="719" width="1" height="3" fill="#000" />
<text x="196.35" y="731" font-size="10" fill="#000" textLength="54.10" lengthAdjust="spacingAndGlyphs" >18 Nov 2019</text>
<rect x="261" y="719" width="1" height="3" fill="#000" />
<text x="260.35" y="731" font-size="10" fill="#000" textLength="47.10" lengthAdjust="spacingAndGlyphs" >6 Dec 2019</text>
<rect x="325" y="719" width="1" height="3" fill="#000" />
<text x="324.1" y="731" font-size="10" fill="#000" textLength="52.60" lengthAdjust="spacingAndGlyphs" >25 Dec 2019</text>
<rect x="389" y="719" width="1" height="3" fill="#000" />
<text x="388.35" y="731" font-size="10" fill="#000" textLength="50.05" lengthAdjust="spacingAndGlyphs" >13 Jan 2020</text>
<rect x="453" y="719" width="1" height="3" fill="#000" />
<text x="452.1" y="731" font-size="10" fill="#000" textLength="50.30" lengthAdjust="spacingAndGlyphs" >31 Jan 2020</text>
<rect x="517" y="719" width="1" height="3" fill="#000" />
<text x="516.35" y="731" font-size="10" fill="#000" textLength="52.05" lengthAdjust="spacingAndGlyphs" >19 Feb 2020</text>
<rect x="581" y="719" width="1" height="3" fill="#000" />
<text x="579.6" y="731" font-size="10" fill="#000" textLength="47.80" lengthAdjust="spacingAndGlyphs" >9 Mar 2020</text>
<rect x="645" y="719" width="1" height="3" fill="#000" />
<text x="644.1" y="731" font-size="10" fill="#000" textLength="52.55" lengthAdjust="spacingAndGlyphs" >27 Mar 2020</text>
<rect x="709" y="719" width="1" height="3" fill="#000" />
<text x="708.35" y="731" font-size="10" fill="#000" textLength="51.55" lengthAdjust="spacingAndGlyphs" >15 Apr 2020</text>
<rect x="773" y="719" width="1" height="3" fill="#000" />
<text x="771.6" y="731" font-size="10" fill="#000" textLength="50.55" lengthAdjust="spacingAndGlyphs" >4 May 2020</text>
<rect x="837" y="719" width="1" height="3" fill="#000" />
<text x="835.85" y="731" font-size="10" fill="#000" textLength="55.30" lengthAdjust="spacingAndGlyphs" >22 May 2020</text>
<rect x="901" y="719" width="1" height="3" fill="#000" />
<text x="900.35" y="731" font-size="10" fill="#000" textLength="50.05" lengthAdjust="spacingAndGlyphs" >10 Jun 2020</text>
<rect x="965" y="719" width="1" height="3" fill="#000" />
<text x="964.1" y="731" font-size="10" fill="#000" textLength="50.30" lengthAdjust="spacingAndGlyphs" >29 Jun 2020</text>
<rect x="1029" y="719" width="1" height="3" fill="#000" />
<text x="1028.35" y="731" font-size="10" fill="#000" textLength="47.05" lengthAdjust="spacingAndGlyphs" >17 Jul 2020</text>
<rect x="1093" y="719" width="1" height="3" fill="#000" />
<text x="1092.1" y="731" font-size="10" fill="#000" textLength="48.30" lengthAdjust="spacingAndGlyphs" >5 Aug 2020</text>
<rect x="1157" y="719" width="1" height="3" fill="#000" />
<text x="1155.85" y="731" font-size="10" fill="#000" textLength="53.30" lengthAdjust="spacingAndGlyphs" >24 Aug 2020</text>
<rect x="1221" y="719" width="1" height="3" fill="#000" />
<text x="1220.2" y="731" font-size="10" fill="#000" textLength="52.10" lengthAdjust="spacingAndGlyphs" >11 Sep 2020</text>
<rect x="8" y="32" width="7" height="1" fill="#000" />
<rect x="9" y="33" width="5" height="1" fill="#000" />
<rect x="10" y="34" width="3" height="1" fill="#000" />
<rect x="11" y="35" width="1" height="1" fill="#000" />
<text x="20" y="37" font-size="10" fill="#000" textLength="65.50" lengthAdjust="spacingAndGlyphs" >USDCNH,Daily</text>
<text x="92" y="37" font-size="10" fill="#000" textLength="32.60" lengthAdjust="spacingAndGlyphs" >6.83361</text>
<text x="128" y="37" font-size="10" fill="#000" textLength="32.60" lengthAdjust="spacingAndGlyphs" >6.83448</text>
<text x="164" y="37" font-size="10" fill="#000" textLength="32.60" lengthAdjust="spacingAndGlyphs" >6.80699</text>
<text x="200" y="37" font-size="10" fill="#000" textLength="32.60" lengthAdjust="spacingAndGlyphs" >6.82090</text>
<text x="8.8" y="545" font-size="10" fill="#000" textLength="68.20" lengthAdjust="spacingAndGlyphs" >RSI(14) 47.4771</text>
<text x="8.8" y="639" font-size="10" fill="#000" textLength="154.20" lengthAdjust="spacingAndGlyphs" >MACD(12,26,9) -0.020944 -0.031956</text>
<rect x="1273" y="26" width="9" height="1" fill="#c0c0c0" />
<rect x="1274" y="27" width="7" height="1" fill="#c0c0c0" />
<rect x="1275" y="28" width="5" height="1" fill="#c0c0c0" />
<rect x="1276" y="29" width="3" height="1" fill="#c0c0c0" />
<rect x="1277" y="30" width="1" height="1" fill="#c0c0c0" />
<rect x="0" y="739" width="1641" height="1" fill="#e3e3e3" />
<rect x="0" y="740" width="1641" height="1" fill="#fff" />
<rect x="0" y="742" width="1641" height="18" fill="#f0f0f0" />
<rect x="0" y="741" width="1641" height="1" fill="#000" />
<rect x="0" y="742" width="2" height="18" fill="#696969" />
<rect x="0" y="760" width="1641" height="2" fill="#fcfcfc" />
<rect x="0" y="762" width="1641" height="2" fill="#ececec" />
<rect x="0" y="764" width="1641" height="1" fill="#c8c8c8" />
<rect x="0" y="765" width="1641" height="1" fill="#a0a0a0" />
<rect x="0" y="766" width="1641" height="1" fill="#e8e8e8" />
<rect x="419" y="741" width="102" height="18" fill="#fff" />
<rect x="418" y="741" width="1" height="19" fill="#000" />
<rect x="521" y="741" width="1" height="19" fill="#000" />
<rect x="418" y="759" width="104" height="1" fill="#000" />
<text x="18.5" y="756" font-size="12" fill="#606060" textLength="79.50" lengthAdjust="spacingAndGlyphs" >EURUSD,Daily</text>
<text x="120" y="756" font-size="12" fill="#606060" textLength="79.50" lengthAdjust="spacingAndGlyphs" >USDCHF,Daily</text>
<text x="221" y="756" font-size="12" fill="#606060" textLength="82.00" lengthAdjust="spacingAndGlyphs" >AUDUSD,Daily</text>
<text x="325" y="756" font-size="12" fill="#606060" textLength="81.00" lengthAdjust="spacingAndGlyphs" >USDCAD,Daily</text>
<text x="428.5" y="756" font-size="12" fill="#000" textLength="82.50" lengthAdjust="spacingAndGlyphs" >USDCNH,Daily</text>
<text x="534" y="756" font-size="12" fill="#606060" textLength="80.00" lengthAdjust="spacingAndGlyphs" >EURUSD,Daily</text>
<text x="638" y="756" font-size="12" fill="#606060" textLength="67.50" lengthAdjust="spacingAndGlyphs" >GBPUSD,H4</text>
<text x="729.5" y="756" font-size="12" fill="#606060" textLength="68.00" lengthAdjust="spacingAndGlyphs" >XAUUSD,H1</text>
<text x="821.7" y="756" font-size="12" fill="#606060" textLength="49.00" lengthAdjust="spacingAndGlyphs" >HK50,H1</text>
<text x="893" y="756" font-size="12" fill="#606060" textLength="56.50" lengthAdjust="spacingAndGlyphs" >UK100,H1</text>
<text x="973" y="756" font-size="12" fill="#606060" textLength="56.50" lengthAdjust="spacingAndGlyphs" >UK100,H1</text>
<text x="1053" y="756" font-size="12" fill="#606060" textLength="56.50" lengthAdjust="spacingAndGlyphs" >GER30,H1</text>
<text x="1132.5" y="756" font-size="12" fill="#606060" textLength="53.50" lengthAdjust="spacingAndGlyphs" >FRA40,H1</text>
<text x="1208" y="756" font-size="12" fill="#606060" textLength="50.60" lengthAdjust="spacingAndGlyphs" >USOil,H4</text>
<text x="1280" y="756" font-size="12" fill="#606060" textLength="62.40" lengthAdjust="spacingAndGlyphs" >USDJPY,H1</text>
<text x="1364.5" y="756" font-size="12" fill="#606060" textLength="58.50" lengthAdjust="spacingAndGlyphs" >DJ30,Daily</text>
<text x="1444" y="756" font-size="12" fill="#606060" textLength="78.50" lengthAdjust="spacingAndGlyphs" >CHINA300,H1</text>
<text x="1544.5" y="756" font-size="12" fill="#606060" textLength="49.70" lengthAdjust="spacingAndGlyphs" >USOil,H1</text>
<rect x="110" y="744" width="1" height="14" fill="#606060" />
<rect x="210" y="744" width="1" height="14" fill="#606060" />
<rect x="314" y="744" width="1" height="14" fill="#606060" />
<rect x="626" y="744" width="1" height="14" fill="#606060" />
<rect x="718" y="744" width="1" height="14" fill="#606060" />
<rect x="810" y="744" width="1" height="14" fill="#606060" />
<rect x="882" y="744" width="1" height="14" fill="#606060" />
<rect x="962" y="744" width="1" height="14" fill="#606060" />
<rect x="1042" y="744" width="1" height="14" fill="#606060" />
<rect x="1122" y="744" width="1" height="14" fill="#606060" />
<rect x="1198" y="744" width="1" height="14" fill="#606060" />
<rect x="1270" y="744" width="1" height="14" fill="#606060" />
<rect x="1354" y="744" width="1" height="14" fill="#606060" />
<rect x="1434" y="744" width="1" height="14" fill="#606060" />
<rect x="1534" y="744" width="1" height="14" fill="#606060" />
<rect x="1606" y="744" width="1" height="14" fill="#606060" />
<path d="M1617 747v6l-4-3z" fill="#a0a0a0"/>
<path d="M1631 747v6l4-3z" fill="#000"/>
</g>
</svg>
</body></html>
